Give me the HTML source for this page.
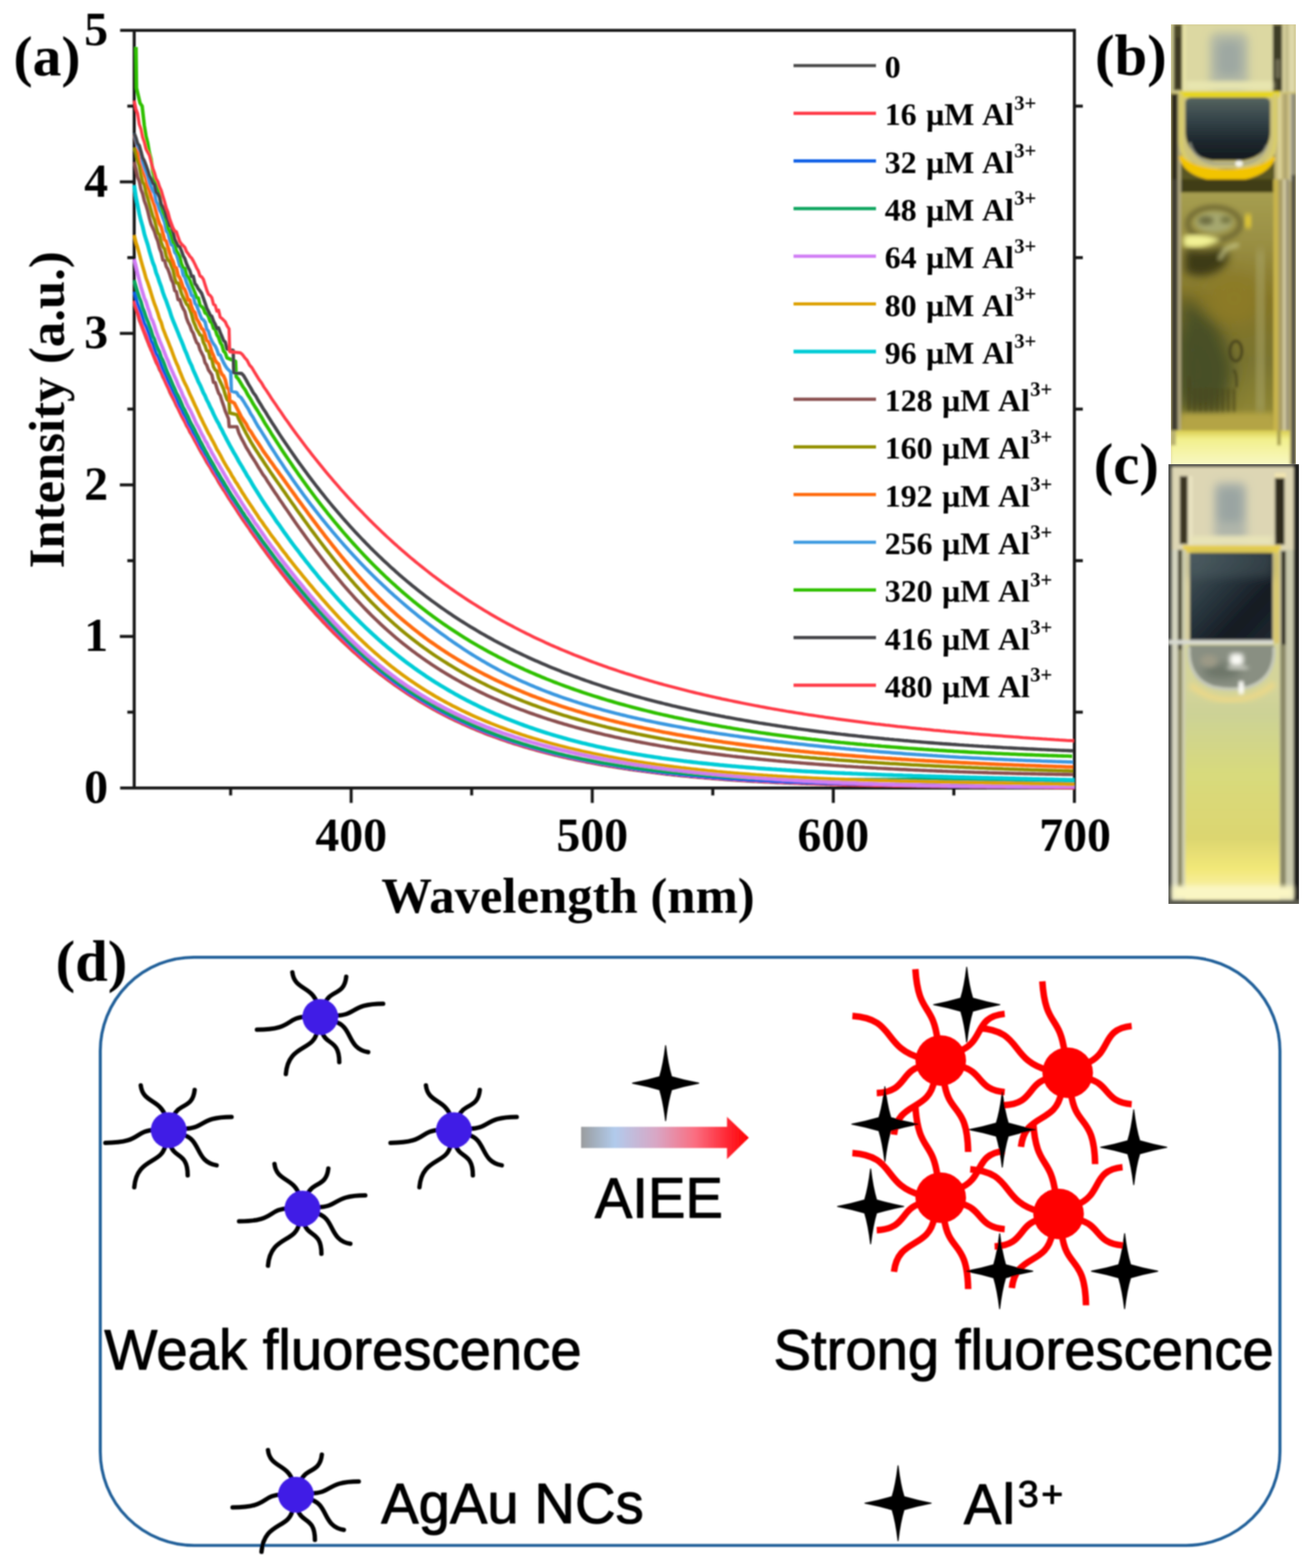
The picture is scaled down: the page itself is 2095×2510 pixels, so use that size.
<!DOCTYPE html>
<html lang="en"><head><meta charset="utf-8"><title>Figure</title>
<style>html,body{margin:0;padding:0;background:#fff}body{width:2095px;height:2510px;overflow:hidden}svg{display:block}</style>
</head><body>
<svg width="2095" height="2510" viewBox="0 0 2095 2510" role="img" aria-label="UV-vis absorption spectra, cuvette photographs and AIEE scheme">
<rect width="2095" height="2510" fill="#ffffff"/>
<defs><filter id="soft" filterUnits="userSpaceOnUse" x="0" y="0" width="2095" height="2510"><feGaussianBlur stdDeviation="0.95"/></filter></defs>
<defs>
<filter id="b1" x="-5%" y="-5%" width="110%" height="110%"><feGaussianBlur stdDeviation="2.0"/></filter>
<filter id="b3" x="-20%" y="-20%" width="140%" height="140%"><feGaussianBlur stdDeviation="3.5"/></filter>
<filter id="b6" x="-30%" y="-30%" width="160%" height="160%"><feGaussianBlur stdDeviation="7"/></filter>
<filter id="b12" x="-40%" y="-40%" width="180%" height="180%"><feGaussianBlur stdDeviation="13"/></filter>
<clipPath id="cpb"><rect x="1874" y="39" width="200" height="704"/></clipPath>
<clipPath id="cpc"><rect x="1870" y="743" width="209" height="704"/></clipPath>
<clipPath id="cpbl"><rect x="1890" y="286" width="148" height="404"/></clipPath>
<linearGradient id="gbliq" x1="0" y1="0" x2="0" y2="1"><stop offset="0" stop-color="#a69e50"/><stop offset="0.2" stop-color="#9a9044"/><stop offset="0.45" stop-color="#857628"/><stop offset="0.7" stop-color="#7a7430"/><stop offset="0.9" stop-color="#8c8434"/><stop offset="1" stop-color="#b8a844"/></linearGradient>
<linearGradient id="gbbub" x1="0" y1="0" x2="0" y2="1"><stop offset="0" stop-color="#56645f"/><stop offset="0.35" stop-color="#35454a"/><stop offset="0.7" stop-color="#1d272d"/><stop offset="1" stop-color="#141a1e"/></linearGradient>
<linearGradient id="gbbot" x1="0" y1="0" x2="0" y2="1"><stop offset="0" stop-color="#d8cc50"/><stop offset="0.25" stop-color="#f2f08c"/><stop offset="1" stop-color="#f8f8c4"/></linearGradient>
<linearGradient id="gcrect" x1="0" y1="0" x2="1" y2="1"><stop offset="0" stop-color="#4a5a5e"/><stop offset="0.35" stop-color="#2c3a42"/><stop offset="0.7" stop-color="#141a22"/><stop offset="1" stop-color="#1e2830"/></linearGradient>
<linearGradient id="gcliq" gradientUnits="userSpaceOnUse" x1="0" y1="1100" x2="0" y2="1446"><stop offset="0" stop-color="#d4d49a"/><stop offset="0.12" stop-color="#ccd296"/><stop offset="0.4" stop-color="#d8da7c"/><stop offset="0.7" stop-color="#dcd670"/><stop offset="0.84" stop-color="#f2e878"/><stop offset="0.93" stop-color="#f8f0a4"/><stop offset="1" stop-color="#faf4c0"/></linearGradient>
</defs>
<g id="photo-b" clip-path="url(#cpb)"><g filter="url(#b1)">
<rect x="1872" y="37" width="204" height="708" fill="#c4b870"/>
<rect x="1874" y="39" width="200" height="108" fill="#dcd8a2"/>
<rect x="1874" y="39" width="5" height="108" fill="#c8c490"/>
<rect x="1878.5" y="39" width="13.5" height="106" fill="#4c4628"/>
<rect x="1882" y="60" width="7" height="80" fill="#3a3520"/>
<rect x="1892" y="39" width="6" height="106" fill="#e8e4a8"/>
<rect x="2037" y="39" width="15" height="107" fill="#3e3c28"/>
<rect x="2041" y="95" width="8" height="30" fill="#6a6850"/>
<rect x="2052" y="39" width="22" height="110" fill="#d6cf9c"/>
<rect x="2058" y="39" width="3" height="110" fill="#b8b080"/>
<rect x="2066" y="39" width="3" height="110" fill="#e6e2b8"/>
<rect x="1936" y="52" width="62" height="92" rx="14" fill="#b4baa6" filter="url(#b6)"/>
<rect x="1948" y="66" width="38" height="56" rx="10" fill="#9ea8a2" filter="url(#b6)"/>
<rect x="1898" y="130" width="140" height="14" fill="#e8e6b0" filter="url(#b3)"/>
<rect x="1874" y="147" width="200" height="142" fill="#cfc474"/>
<rect x="1890" y="236" width="150" height="54" fill="#5a5620"/>
<path d="M1890,150 V236 Q1900,262 1930,270 H2000 Q2030,262 2040,236 V150Z" fill="#cdc37a"/>
<rect x="1874" y="150" width="11" height="140" fill="#2e2c1e"/>
<rect x="1885" y="150" width="5" height="140" fill="#b4ac80"/>
<rect x="2040" y="150" width="34" height="140" fill="#c6ba7c"/>
<rect x="2046" y="150" width="4" height="140" fill="#e0d8a0"/>
<rect x="2055" y="150" width="4" height="140" fill="#a89e6c"/>
<rect x="2064" y="150" width="4" height="140" fill="#d8d2ac"/>
<path d="M1888,146 H2048 V156 H1888Z" fill="#e6d624"/>
<path d="M1890,150 V225 Q1892,268 1935,276 H1995 Q2038,268 2041,225 V150" fill="none" stroke="#d8cc6c" stroke-width="7"/>
<path d="M1890,252 Q1900,284 1960,288 Q2022,286 2038,254 Q2020,272 1962,274 Q1908,272 1890,252Z" fill="#f2c400" stroke="#f2c400" stroke-width="6" stroke-linejoin="round"/>
<path d="M1897,166 Q1897,156 1907,156 H2023 Q2033,156 2033,166 V212 Q2031,250 1990,257 H1940 Q1899,250 1897,212Z" fill="url(#gbbub)"/>
<path d="M1904,228 Q1912,258 1945,262 H1990 Q2020,258 2028,232" fill="none" stroke="#9a9c8c" stroke-width="4" opacity="0.8"/>
<ellipse cx="1983" cy="262" rx="6" ry="5" fill="#f4f4ec"/>
<rect x="1890" y="287" width="148" height="22" fill="#403e18"/>
<rect x="1890" y="308" width="148" height="382" fill="url(#gbliq)"/>
<g clip-path="url(#cpbl)">
<ellipse cx="1943" cy="358" rx="42" ry="26" fill="none" stroke="#6e6830" stroke-width="8" filter="url(#b3)"/>
<ellipse cx="1943" cy="356" rx="30" ry="16" fill="#a6a870" filter="url(#b3)"/>
<ellipse cx="1930" cy="353" rx="12" ry="7" fill="#6c6c40" filter="url(#b3)"/>
<ellipse cx="1962" cy="352" rx="9" ry="6" fill="#74743f" filter="url(#b3)"/>
<path d="M1896,398 Q1925,405 1960,396 Q1975,418 1950,436 Q1920,448 1896,436Z" fill="#3c3a18" filter="url(#b6)"/>
<path d="M1897,380 Q1920,374 1948,384 Q1922,398 1897,392Z" fill="#f4f498" stroke="#f0f090" stroke-width="5" filter="url(#b3)"/>
<rect x="1993" y="343" width="9" height="22" fill="#ecd030" filter="url(#b3)"/>
<path d="M1952,414 L1962,398 L1980,392" fill="none" stroke="#c8c888" stroke-width="6" stroke-linecap="round" filter="url(#b3)"/>
<path d="M1890,470 L1950,520 L1975,590 L1960,660 L1890,660Z" fill="#4a5028" filter="url(#b12)"/>
<path d="M1890,520 L1940,560 L1950,620 L1890,640Z" fill="#465028" filter="url(#b12)"/>
<ellipse cx="1975" cy="478" rx="40" ry="40" fill="#8c7a26" filter="url(#b12)"/>
<rect x="2012" y="400" width="10" height="260" fill="#a8a468" filter="url(#b6)"/>
<rect x="1901" y="604" width="4" height="54" fill="#4a4418" filter="url(#b1)"/>
<rect x="1910" y="622" width="4" height="38" fill="#4a4418" filter="url(#b1)"/>
<rect x="1919" y="622" width="4" height="38" fill="#4a4418" filter="url(#b1)"/>
<rect x="1928" y="622" width="4" height="38" fill="#4a4418" filter="url(#b1)"/>
<rect x="1937" y="622" width="4" height="38" fill="#4a4418" filter="url(#b1)"/>
<rect x="1946" y="622" width="4" height="38" fill="#4a4418" filter="url(#b1)"/>
<rect x="1955" y="622" width="4" height="38" fill="#4a4418" filter="url(#b1)"/>
<rect x="1964" y="622" width="4" height="38" fill="#4a4418" filter="url(#b1)"/>
<rect x="1973" y="622" width="4" height="38" fill="#4a4418" filter="url(#b1)"/>
<ellipse cx="1978" cy="562" rx="9.5" ry="16" fill="none" stroke="#46421a" stroke-width="4.5"/>
<path d="M1974,592 Q1980,596 1979,620" fill="none" stroke="#4a461c" stroke-width="4"/>
<rect x="1890" y="662" width="148" height="28" fill="#b4a444" filter="url(#b3)"/>
</g>
<rect x="1874" y="287" width="11" height="410" fill="#403e30"/>
<rect x="1885" y="287" width="5" height="410" fill="#b0a880"/>
<rect x="2038" y="287" width="8" height="404" fill="#c8b44c"/>
<rect x="2046" y="287" width="7" height="404" fill="#a89c64"/>
<rect x="2053" y="287" width="5" height="404" fill="#d2caa0"/>
<rect x="2058" y="287" width="6" height="404" fill="#9c9478"/>
<rect x="2066.5" y="280" width="7.5" height="465" fill="#4a4a44"/>
<rect x="2066.5" y="150" width="7.5" height="130" fill="#8e8c78"/>
<rect x="1874" y="689" width="190" height="56" fill="url(#gbbot)"/>
<rect x="1874" y="689" width="8" height="24" fill="#b8b070"/>
<rect x="2044" y="689" width="6" height="24" fill="#a8a050"/>
</g></g>
<g id="photo-c" clip-path="url(#cpc)"><g filter="url(#b1)">
<rect x="1868" y="741" width="213" height="708" fill="#3a3a38"/>
<rect x="1875.5" y="747.5" width="195.5" height="694" fill="#ddd6b4"/>
<rect x="1888" y="762" width="13" height="109" fill="#3a3420"/>
<rect x="2040.5" y="764" width="15.5" height="108" fill="#2e2a1e"/>
<rect x="2040" y="757" width="18" height="8" fill="#f0e4b0"/>
<rect x="1901" y="762" width="8" height="110" fill="#e8e2c0"/>
<rect x="1943" y="772" width="52" height="94" rx="10" fill="#b0b6aa" filter="url(#b6)"/>
<rect x="1951" y="782" width="36" height="54" rx="8" fill="#9aa4a2" filter="url(#b6)"/>
<rect x="1905" y="858" width="132" height="14" fill="#e8e4b8" filter="url(#b3)"/>
<rect x="1893" y="873" width="157" height="12" fill="#e8d050"/>
<rect x="1875.5" y="880" width="21" height="562" fill="#d6d6c0"/>
<rect x="1885" y="880" width="7" height="540" fill="#4a4630"/>
<rect x="1885" y="1040" width="7" height="380" fill="#8a8862"/>
<rect x="1892" y="880" width="6" height="562" fill="#cfcfb0"/>
<rect x="2047" y="880" width="24" height="562" fill="#c8c8ac"/>
<rect x="2050.5" y="882" width="7.5" height="150" fill="#2e2a1a"/>
<rect x="2049" y="1032" width="9" height="390" fill="#8a8866"/>
<rect x="2038" y="885" width="10" height="150" fill="#d8c870"/>
<rect x="1897" y="885" width="8" height="150" fill="#d8d0a0"/>
<rect x="1870" y="743" width="6" height="704" fill="#4a4c48"/>
<rect x="2070.5" y="743" width="9" height="704" fill="#141414"/>
<rect x="1897" y="1030" width="151" height="412" fill="url(#gcliq)"/>
<rect x="1904" y="885" width="133" height="140" fill="url(#gcrect)"/>
<rect x="1904" y="885" width="133" height="40" fill="#55666a" opacity="0.35" filter="url(#b6)"/>
<rect x="1870" y="1024.5" width="168" height="6.5" fill="#d8dad2"/>
<path d="M1903,1033 H2039 V1048 Q2036,1088 1998,1100 Q1970,1106 1942,1100 Q1906,1088 1903,1048Z" fill="#898f82"/>
<path d="M1903,1036 V1048 Q1906,1088 1942,1100 Q1970,1106 1998,1100 Q2036,1088 2039,1048 V1036" fill="none" stroke="#c4c8b8" stroke-width="5"/>
<ellipse cx="1955" cy="1075" rx="30" ry="12" fill="#6c7468" filter="url(#b6)"/>
<ellipse cx="1935" cy="1058" rx="14" ry="10" fill="#9c9a86" filter="url(#b3)"/>
<rect x="1968" y="1046" width="22" height="20" rx="6" fill="#fbfbf6" filter="url(#b3)"/>
<rect x="1965" y="1066" width="32" height="6" fill="#d0d2c8" filter="url(#b3)"/>
<rect x="1982" y="1090" width="9" height="22" rx="4" fill="#fdfdf8" filter="url(#b1)"/>
<path d="M1905,1096 Q1935,1122 1972,1120 Q2010,1120 2040,1094" fill="none" stroke="#ead888" stroke-width="10" filter="url(#b3)"/>
<rect x="1876" y="1418" width="195" height="22" fill="#faf6c4" filter="url(#b3)"/>
<rect x="1870" y="1440.5" width="209" height="6.5" fill="#5c5c50"/>
</g></g>
<g id="plot" filter="url(#soft)">
<g stroke="#141414" stroke-width="4.8" fill="none" stroke-linecap="butt">
<path d="M192.3,48.6 H1721.5"/>
<path d="M192.3,1261.3 H1721.5"/>
<path d="M214.8,48.6 V1261.3"/>
<path d="M1719.5,46.6 V1285.3"/>
<path d="M191.8,1018.8 H214.8"/>
<path d="M191.8,776.2 H214.8"/>
<path d="M191.8,533.7 H214.8"/>
<path d="M191.8,291.1 H214.8"/>
<path d="M203.8,1140.0 H214.8"/>
<path d="M1719.5,1140.0 H1733.0"/>
<path d="M203.8,897.5 H214.8"/>
<path d="M1719.5,897.5 H1733.0"/>
<path d="M203.8,654.9 H214.8"/>
<path d="M1719.5,654.9 H1733.0"/>
<path d="M203.8,412.4 H214.8"/>
<path d="M1719.5,412.4 H1733.0"/>
<path d="M203.8,169.9 H214.8"/>
<path d="M1719.5,169.9 H1733.0"/>
<path d="M562.0,1261.3 V1285.3"/>
<path d="M947.9,1261.3 V1285.3"/>
<path d="M1333.7,1261.3 V1285.3"/>
<path d="M369.1,1261.3 V1273.3"/>
<path d="M754.9,1261.3 V1273.3"/>
<path d="M1140.8,1261.3 V1273.3"/>
<path d="M1526.6,1261.3 V1273.3"/>
</g>
<g fill="none" stroke-linejoin="round" stroke-linecap="butt">
<path d="M214.8,485.1L217.5,493.5L220.2,501.7L222.9,512.5L225.6,519.1L228.3,524.5L231.0,532.9L233.7,540.4L236.4,546.6L239.1,554.1L241.8,559.0L244.5,566.7L247.2,572.5L249.9,580.1L252.6,584.6L255.3,591.9L258.0,596.2L260.7,603.5L263.4,608.5L266.1,614.3L268.8,619.9L271.5,627.2L274.2,632.5L276.9,637.7L279.6,642.9L282.3,649.2L285.0,653.8L287.7,659.2L290.4,665.4L293.1,670.4L295.8,674.7L298.5,681.2L301.2,685.3L303.9,691.5L306.6,695.5L309.3,700.5L312.0,705.9L314.7,710.0L317.4,715.7L320.1,720.8L322.8,725.4L325.5,729.7L328.2,734.9L330.9,739.9L333.6,744.2L336.3,748.0L339.0,753.4L341.7,757.8L344.4,761.9L347.1,766.2L349.8,771.5L352.5,775.8L355.2,780.2L357.9,784.5L360.6,788.0L363.3,793.0L366.0,797.4L368.7,801.3L371.4,805.5L374.1,809.4L376.8,813.6L379.5,817.8L382.2,822.2L384.9,826.0L387.6,830.3L390.3,834.3L393.0,838.0L395.7,842.0L398.5,845.7L401.2,850.1L403.9,853.8L406.6,857.8L407.7,859.2L411.6,864.6L415.4,870.0L419.3,875.6L423.1,880.8L427.0,886.1L430.9,891.5L434.7,896.4L438.6,901.8L442.4,906.9L446.3,911.5L450.2,916.9L454.0,921.6L457.9,926.6L461.7,931.6L465.6,936.2L469.4,941.0L473.3,945.7L477.2,950.2L481.0,954.8L484.9,959.4L488.7,964.0L492.6,968.4L496.4,972.7L500.3,977.1L504.2,981.6L508.0,985.6L511.9,989.8L515.7,994.1L519.6,998.1L523.5,1002.3L527.3,1006.1L531.2,1010.2L535.0,1014.1L538.9,1017.9L542.7,1021.7L546.6,1025.5L550.5,1029.1L554.3,1032.7L558.2,1036.3L562.0,1040.0L565.9,1043.5L569.8,1046.9L573.6,1050.3L577.5,1053.7L581.3,1057.0L585.2,1060.3L589.0,1063.5L592.9,1066.8L596.8,1069.9L600.6,1072.9L604.5,1076.1L608.3,1079.1L612.2,1082.0L616.1,1085.0L619.9,1087.8L623.8,1090.7L627.6,1093.5L631.5,1096.3L635.3,1099.0L639.2,1101.7L643.1,1104.3L646.9,1106.9L650.8,1109.5L654.6,1112.0L658.5,1114.5L662.4,1116.9L666.2,1119.3L670.1,1121.7L673.9,1124.0L677.8,1126.3L681.6,1128.6L685.5,1130.8L689.4,1133.0L693.2,1135.1L697.1,1137.3L700.9,1139.4L704.8,1141.4L708.7,1143.4L712.5,1145.4L716.4,1147.4L720.2,1149.3L724.1,1151.2L727.9,1153.1L731.8,1154.9L735.7,1156.7L739.5,1158.5L743.4,1160.2L747.2,1161.9L751.1,1163.6L754.9,1165.3L758.8,1166.9L762.7,1168.5L766.5,1170.1L770.4,1171.6L774.2,1173.2L778.1,1174.7L782.0,1176.2L785.8,1177.6L789.7,1179.0L793.5,1180.4L797.4,1181.8L801.2,1183.2L805.1,1184.5L809.0,1185.9L812.8,1187.2L816.7,1188.4L820.5,1189.7L824.4,1190.9L828.3,1192.1L832.1,1193.3L836.0,1194.5L839.8,1195.7L843.7,1196.8L847.5,1197.9L851.4,1199.0L855.3,1200.1L859.1,1201.2L863.0,1202.2L866.8,1203.3L870.7,1204.3L874.6,1205.3L878.4,1206.3L882.3,1207.3L886.1,1208.2L890.0,1209.1L893.8,1210.1L897.7,1211.0L901.6,1211.9L905.4,1212.8L909.3,1213.6L913.1,1214.5L917.0,1215.3L920.9,1216.1L924.7,1216.9L928.6,1217.7L932.4,1218.5L936.3,1219.3L940.1,1220.1L944.0,1220.8L947.9,1221.5L951.7,1222.3L955.6,1223.0L959.4,1223.7L963.3,1224.4L967.2,1225.0L971.0,1225.7L974.9,1226.4L978.7,1227.0L982.6,1227.7L986.4,1228.3L990.3,1228.9L994.2,1229.5L998.0,1230.1L1001.9,1230.7L1005.7,1231.3L1009.6,1231.8L1013.4,1232.4L1017.3,1232.9L1021.2,1233.5L1025.0,1234.0L1028.9,1234.5L1032.7,1235.0L1036.6,1235.5L1040.5,1236.0L1044.3,1236.5L1048.2,1237.0L1052.0,1237.5L1055.9,1237.9L1059.7,1238.4L1063.6,1238.8L1067.5,1239.3L1071.3,1239.7L1075.2,1240.1L1079.0,1240.6L1082.9,1241.0L1086.8,1241.4L1090.6,1241.8L1094.5,1242.2L1098.3,1242.5L1102.2,1242.9L1106.0,1243.3L1109.9,1243.6L1113.8,1244.0L1117.6,1244.4L1121.5,1244.7L1125.3,1245.0L1129.2,1245.4L1133.1,1245.7L1136.9,1246.0L1140.8,1246.3L1144.6,1246.6L1148.5,1246.9L1152.3,1247.2L1156.2,1247.5L1160.1,1247.8L1163.9,1248.1L1167.8,1248.4L1171.6,1248.6L1175.5,1248.9L1179.4,1249.1L1183.2,1249.4L1187.1,1249.6L1190.9,1249.9L1194.8,1250.1L1198.6,1250.3L1202.5,1250.6L1206.4,1250.8L1210.2,1251.0L1214.1,1251.2L1217.9,1251.4L1221.8,1251.6L1225.6,1251.8L1229.5,1252.0L1233.4,1252.2L1237.2,1252.4L1241.1,1252.6L1244.9,1252.8L1248.8,1252.9L1252.7,1253.1L1256.5,1253.3L1260.4,1253.4L1264.2,1253.6L1268.1,1253.7L1271.9,1253.9L1275.8,1254.0L1279.7,1254.2L1283.5,1254.3L1287.4,1254.5L1291.2,1254.6L1295.1,1254.7L1299.0,1254.8L1302.8,1255.0L1306.7,1255.1L1310.5,1255.2L1314.4,1255.3L1318.2,1255.4L1322.1,1255.6L1326.0,1255.7L1329.8,1255.8L1333.7,1255.9L1337.5,1256.0L1341.4,1256.1L1345.3,1256.2L1349.1,1256.3L1353.0,1256.4L1356.8,1256.5L1360.7,1256.5L1364.5,1256.6L1368.4,1256.7L1372.3,1256.8L1376.1,1256.9L1380.0,1257.0L1383.8,1257.0L1387.7,1257.1L1391.6,1257.2L1395.4,1257.3L1399.3,1257.3L1403.1,1257.4L1407.0,1257.5L1410.8,1257.5L1414.7,1257.6L1418.6,1257.7L1422.4,1257.7L1426.3,1257.8L1430.1,1257.8L1434.0,1257.9L1437.9,1257.9L1441.7,1258.0L1445.6,1258.1L1449.4,1258.1L1453.3,1258.2L1457.1,1258.2L1461.0,1258.3L1464.9,1258.3L1468.7,1258.4L1472.6,1258.4L1476.4,1258.5L1480.3,1258.5L1484.1,1258.5L1488.0,1258.6L1491.9,1258.6L1495.7,1258.7L1499.6,1258.7L1503.4,1258.8L1507.3,1258.8L1511.2,1258.8L1515.0,1258.9L1518.9,1258.9L1522.7,1259.0L1526.6,1259.0L1530.4,1259.0L1534.3,1259.1L1538.2,1259.1L1542.0,1259.2L1545.9,1259.2L1549.7,1259.2L1553.6,1259.3L1557.5,1259.3L1561.3,1259.4L1565.2,1259.4L1569.0,1259.4L1572.9,1259.5L1576.7,1259.5L1580.6,1259.6L1584.5,1259.6L1588.3,1259.6L1592.2,1259.7L1596.0,1259.7L1599.9,1259.8L1603.8,1259.8L1607.6,1259.8L1611.5,1259.9L1615.3,1259.9L1619.2,1260.0L1623.0,1260.0L1626.9,1260.1L1630.8,1260.1L1634.6,1260.1L1638.5,1260.2L1642.3,1260.2L1646.2,1260.3L1650.1,1260.3L1653.9,1260.4L1657.8,1260.4L1661.6,1260.5L1665.5,1260.5L1669.3,1260.6L1673.2,1260.7L1677.1,1260.7L1680.9,1260.8L1684.8,1260.8L1688.6,1260.9L1692.5,1260.9L1696.4,1261.0L1700.2,1261.1L1704.1,1261.1L1707.9,1261.2L1711.8,1261.3L1715.6,1261.3L1719.5,1261.4" stroke="#4a4a4a" stroke-width="5.2"/>
<path d="M214.8,481.9L217.5,491.4L220.2,499.3L222.9,510.1L225.6,517.5L228.3,525.6L231.0,532.1L233.7,538.1L236.4,546.0L239.1,551.9L241.8,559.9L244.5,564.3L247.2,572.5L249.9,578.7L252.6,584.1L255.3,589.3L258.0,595.6L260.7,601.1L263.4,607.5L266.1,614.2L268.8,619.9L271.5,625.0L274.2,631.6L276.9,636.0L279.6,641.4L282.3,647.2L285.0,653.1L287.7,659.1L290.4,664.2L293.1,669.5L295.8,674.7L298.5,679.7L301.2,684.7L303.9,690.3L306.6,694.4L309.3,699.5L312.0,704.3L314.7,710.1L317.4,714.5L320.1,719.2L322.8,724.4L325.5,729.1L328.2,733.3L330.9,738.3L333.6,742.6L336.3,747.7L339.0,751.8L341.7,756.3L344.4,760.9L347.1,765.3L349.8,769.9L352.5,774.6L355.2,779.1L357.9,782.9L360.6,787.9L363.3,791.9L366.0,796.3L368.7,800.2L371.4,804.1L374.1,808.8L376.8,812.5L379.5,816.6L382.2,820.8L384.9,825.2L387.6,828.8L390.3,833.1L393.0,836.9L395.7,841.0L398.5,844.7L401.2,848.7L403.9,852.9L406.6,856.8L407.7,858.0L411.6,863.8L415.4,869.2L419.3,874.7L423.1,879.7L427.0,884.9L430.9,890.1L434.7,895.7L438.6,900.5L442.4,905.9L446.3,910.8L450.2,915.8L454.0,920.7L457.9,925.6L461.7,930.5L465.6,935.3L469.4,939.8L473.3,944.8L477.2,949.5L481.0,953.8L484.9,958.6L488.7,962.9L492.6,967.3L496.4,972.0L500.3,976.1L504.2,980.6L508.0,984.7L511.9,988.9L515.7,993.0L519.6,997.1L523.5,1001.3L527.3,1005.3L531.2,1009.1L535.0,1013.0L538.9,1017.0L542.7,1020.7L546.6,1024.5L550.5,1028.1L554.3,1031.7L558.2,1035.3L562.0,1038.9L565.9,1042.5L569.8,1045.9L573.6,1049.3L577.5,1052.8L581.3,1056.0L585.2,1059.3L589.0,1062.6L592.9,1065.8L596.8,1068.9L600.6,1072.0L604.5,1075.0L608.3,1078.1L612.2,1081.1L616.1,1084.0L619.9,1086.8L623.8,1089.7L627.6,1092.5L631.5,1095.3L635.3,1098.0L639.2,1100.6L643.1,1103.3L646.9,1105.9L650.8,1108.5L654.6,1111.0L658.5,1113.5L662.4,1116.0L666.2,1118.3L670.1,1120.7L673.9,1123.1L677.8,1125.4L681.6,1127.6L685.5,1129.8L689.4,1132.0L693.2,1134.2L697.1,1136.3L700.9,1138.4L704.8,1140.5L708.7,1142.5L712.5,1144.5L716.4,1146.4L720.2,1148.3L724.1,1150.2L727.9,1152.1L731.8,1153.9L735.7,1155.7L739.5,1157.5L743.4,1159.2L747.2,1160.9L751.1,1162.6L754.9,1164.3L758.8,1165.9L762.7,1167.5L766.5,1169.1L770.4,1170.7L774.2,1172.2L778.1,1173.7L782.0,1175.2L785.8,1176.6L789.7,1178.1L793.5,1179.5L797.4,1180.9L801.2,1182.2L805.1,1183.6L809.0,1184.9L812.8,1186.2L816.7,1187.5L820.5,1188.7L824.4,1189.9L828.3,1191.2L832.1,1192.4L836.0,1193.5L839.8,1194.7L843.7,1195.8L847.5,1197.0L851.4,1198.1L855.3,1199.1L859.1,1200.2L863.0,1201.3L866.8,1202.3L870.7,1203.3L874.6,1204.3L878.4,1205.3L882.3,1206.3L886.1,1207.2L890.0,1208.2L893.8,1209.1L897.7,1210.0L901.6,1210.9L905.4,1211.8L909.3,1212.6L913.1,1213.5L917.0,1214.3L920.9,1215.2L924.7,1216.0L928.6,1216.8L932.4,1217.6L936.3,1218.3L940.1,1219.1L944.0,1219.8L947.9,1220.6L951.7,1221.3L955.6,1222.0L959.4,1222.7L963.3,1223.4L967.2,1224.1L971.0,1224.7L974.9,1225.4L978.7,1226.0L982.6,1226.7L986.4,1227.3L990.3,1227.9L994.2,1228.5L998.0,1229.1L1001.9,1229.7L1005.7,1230.3L1009.6,1230.9L1013.4,1231.4L1017.3,1232.0L1021.2,1232.5L1025.0,1233.0L1028.9,1233.6L1032.7,1234.1L1036.6,1234.6L1040.5,1235.1L1044.3,1235.6L1048.2,1236.0L1052.0,1236.5L1055.9,1237.0L1059.7,1237.4L1063.6,1237.9L1067.5,1238.3L1071.3,1238.7L1075.2,1239.2L1079.0,1239.6L1082.9,1240.0L1086.8,1240.4L1090.6,1240.8L1094.5,1241.2L1098.3,1241.6L1102.2,1241.9L1106.0,1242.3L1109.9,1242.7L1113.8,1243.0L1117.6,1243.4L1121.5,1243.7L1125.3,1244.1L1129.2,1244.4L1133.1,1244.7L1136.9,1245.0L1140.8,1245.4L1144.6,1245.7L1148.5,1246.0L1152.3,1246.3L1156.2,1246.5L1160.1,1246.8L1163.9,1247.1L1167.8,1247.4L1171.6,1247.6L1175.5,1247.9L1179.4,1248.2L1183.2,1248.4L1187.1,1248.7L1190.9,1248.9L1194.8,1249.1L1198.6,1249.4L1202.5,1249.6L1206.4,1249.8L1210.2,1250.0L1214.1,1250.2L1217.9,1250.5L1221.8,1250.7L1225.6,1250.9L1229.5,1251.1L1233.4,1251.2L1237.2,1251.4L1241.1,1251.6L1244.9,1251.8L1248.8,1252.0L1252.7,1252.1L1256.5,1252.3L1260.4,1252.5L1264.2,1252.6L1268.1,1252.8L1271.9,1252.9L1275.8,1253.1L1279.7,1253.2L1283.5,1253.3L1287.4,1253.5L1291.2,1253.6L1295.1,1253.8L1299.0,1253.9L1302.8,1254.0L1306.7,1254.1L1310.5,1254.2L1314.4,1254.4L1318.2,1254.5L1322.1,1254.6L1326.0,1254.7L1329.8,1254.8L1333.7,1254.9L1337.5,1255.0L1341.4,1255.1L1345.3,1255.2L1349.1,1255.3L1353.0,1255.4L1356.8,1255.5L1360.7,1255.6L1364.5,1255.7L1368.4,1255.7L1372.3,1255.8L1376.1,1255.9L1380.0,1256.0L1383.8,1256.1L1387.7,1256.1L1391.6,1256.2L1395.4,1256.3L1399.3,1256.4L1403.1,1256.4L1407.0,1256.5L1410.8,1256.6L1414.7,1256.6L1418.6,1256.7L1422.4,1256.7L1426.3,1256.8L1430.1,1256.9L1434.0,1256.9L1437.9,1257.0L1441.7,1257.0L1445.6,1257.1L1449.4,1257.1L1453.3,1257.2L1457.1,1257.2L1461.0,1257.3L1464.9,1257.3L1468.7,1257.4L1472.6,1257.4L1476.4,1257.5L1480.3,1257.5L1484.1,1257.6L1488.0,1257.6L1491.9,1257.7L1495.7,1257.7L1499.6,1257.8L1503.4,1257.8L1507.3,1257.8L1511.2,1257.9L1515.0,1257.9L1518.9,1258.0L1522.7,1258.0L1526.6,1258.0L1530.4,1258.1L1534.3,1258.1L1538.2,1258.2L1542.0,1258.2L1545.9,1258.2L1549.7,1258.3L1553.6,1258.3L1557.5,1258.4L1561.3,1258.4L1565.2,1258.4L1569.0,1258.5L1572.9,1258.5L1576.7,1258.5L1580.6,1258.6L1584.5,1258.6L1588.3,1258.7L1592.2,1258.7L1596.0,1258.7L1599.9,1258.8L1603.8,1258.8L1607.6,1258.9L1611.5,1258.9L1615.3,1259.0L1619.2,1259.0L1623.0,1259.0L1626.9,1259.1L1630.8,1259.1L1634.6,1259.2L1638.5,1259.2L1642.3,1259.3L1646.2,1259.3L1650.1,1259.4L1653.9,1259.4L1657.8,1259.5L1661.6,1259.5L1665.5,1259.6L1669.3,1259.6L1673.2,1259.7L1677.1,1259.7L1680.9,1259.8L1684.8,1259.8L1688.6,1259.9L1692.5,1260.0L1696.4,1260.0L1700.2,1260.1L1704.1,1260.2L1707.9,1260.2L1711.8,1260.3L1715.6,1260.4L1719.5,1260.4" stroke="#ff3b47" stroke-width="6.0"/>
<path d="M214.8,467.4L217.5,476.8L220.2,486.7L222.9,493.9L225.6,500.5L228.3,509.0L231.0,517.4L233.7,522.8L236.4,529.7L239.1,536.7L241.8,545.8L244.5,550.6L247.2,559.2L249.9,566.4L252.6,570.6L255.3,577.2L258.0,585.0L260.7,591.6L263.4,597.3L266.1,603.2L268.8,609.7L271.5,615.4L274.2,620.5L276.9,626.9L279.6,632.2L282.3,637.6L285.0,644.5L287.7,650.5L290.4,654.8L293.1,661.4L295.8,665.8L298.5,670.8L301.2,677.5L303.9,682.1L306.6,686.7L309.3,692.9L312.0,697.0L314.7,702.0L317.4,707.2L320.1,712.9L322.8,717.8L325.5,721.8L328.2,727.2L330.9,731.0L333.6,736.2L336.3,741.4L339.0,745.3L341.7,750.0L344.4,754.2L347.1,759.5L349.8,763.5L352.5,768.2L355.2,772.1L357.9,777.1L360.6,780.6L363.3,785.3L366.0,789.2L368.7,794.0L371.4,798.3L374.1,801.9L376.8,806.1L379.5,810.0L382.2,813.9L384.9,818.5L387.6,822.2L390.3,826.5L393.0,830.1L395.7,834.2L398.5,837.8L401.2,842.2L403.9,845.5L406.6,849.9L407.7,851.1L411.6,856.6L415.4,862.3L419.3,867.5L423.1,872.7L427.0,877.6L430.9,883.0L434.7,888.1L438.6,893.2L442.4,898.2L446.3,903.3L450.2,908.0L454.0,913.0L457.9,918.0L461.7,922.6L465.6,927.4L469.4,932.2L473.3,936.8L477.2,941.5L481.0,946.1L484.9,950.9L488.7,955.3L492.6,959.9L496.4,964.4L500.3,968.9L504.2,973.1L508.0,977.5L511.9,981.7L515.7,986.1L519.6,990.3L523.5,994.5L527.3,998.7L531.2,1002.8L535.0,1006.7L538.9,1010.8L542.7,1014.7L546.6,1018.6L550.5,1022.4L554.3,1026.3L558.2,1030.1L562.0,1033.9L565.9,1037.5L569.8,1041.1L573.6,1044.7L577.5,1048.1L581.3,1051.7L585.2,1055.1L589.0,1058.5L592.9,1061.8L596.8,1065.1L600.6,1068.4L604.5,1071.5L608.3,1074.7L612.2,1077.7L616.1,1080.7L619.9,1083.7L623.8,1086.7L627.6,1089.5L631.5,1092.4L635.3,1095.1L639.2,1097.9L643.1,1100.6L646.9,1103.3L650.8,1105.9L654.6,1108.5L658.5,1111.0L662.4,1113.5L666.2,1115.9L670.1,1118.4L673.9,1120.7L677.8,1123.1L681.6,1125.4L685.5,1127.6L689.4,1129.8L693.2,1132.0L697.1,1134.2L700.9,1136.3L704.8,1138.4L708.7,1140.4L712.5,1142.4L716.4,1144.4L720.2,1146.3L724.1,1148.3L727.9,1150.2L731.8,1152.0L735.7,1153.8L739.5,1155.6L743.4,1157.4L747.2,1159.2L751.1,1160.9L754.9,1162.5L758.8,1164.2L762.7,1165.8L766.5,1167.4L770.4,1169.0L774.2,1170.6L778.1,1172.1L782.0,1173.6L785.8,1175.1L789.7,1176.5L793.5,1178.0L797.4,1179.4L801.2,1180.7L805.1,1182.1L809.0,1183.5L812.8,1184.8L816.7,1186.1L820.5,1187.4L824.4,1188.6L828.3,1189.8L832.1,1191.1L836.0,1192.3L839.8,1193.4L843.7,1194.6L847.5,1195.7L851.4,1196.9L855.3,1198.0L859.1,1199.1L863.0,1200.1L866.8,1201.2L870.7,1202.2L874.6,1203.2L878.4,1204.2L882.3,1205.2L886.1,1206.2L890.0,1207.2L893.8,1208.1L897.7,1209.0L901.6,1209.9L905.4,1210.8L909.3,1211.7L913.1,1212.6L917.0,1213.4L920.9,1214.3L924.7,1215.1L928.6,1215.9L932.4,1216.7L936.3,1217.5L940.1,1218.3L944.0,1219.0L947.9,1219.8L951.7,1220.5L955.6,1221.2L959.4,1221.9L963.3,1222.6L967.2,1223.3L971.0,1224.0L974.9,1224.7L978.7,1225.3L982.6,1226.0L986.4,1226.6L990.3,1227.2L994.2,1227.9L998.0,1228.5L1001.9,1229.1L1005.7,1229.6L1009.6,1230.2L1013.4,1230.8L1017.3,1231.3L1021.2,1231.9L1025.0,1232.4L1028.9,1232.9L1032.7,1233.5L1036.6,1234.0L1040.5,1234.5L1044.3,1235.0L1048.2,1235.5L1052.0,1235.9L1055.9,1236.4L1059.7,1236.9L1063.6,1237.3L1067.5,1237.8L1071.3,1238.2L1075.2,1238.6L1079.0,1239.0L1082.9,1239.5L1086.8,1239.9L1090.6,1240.3L1094.5,1240.7L1098.3,1241.0L1102.2,1241.4L1106.0,1241.8L1109.9,1242.1L1113.8,1242.5L1117.6,1242.9L1121.5,1243.2L1125.3,1243.5L1129.2,1243.9L1133.1,1244.2L1136.9,1244.5L1140.8,1244.8L1144.6,1245.1L1148.5,1245.4L1152.3,1245.7L1156.2,1246.0L1160.1,1246.3L1163.9,1246.6L1167.8,1246.8L1171.6,1247.1L1175.5,1247.4L1179.4,1247.6L1183.2,1247.9L1187.1,1248.1L1190.9,1248.3L1194.8,1248.6L1198.6,1248.8L1202.5,1249.0L1206.4,1249.2L1210.2,1249.4L1214.1,1249.7L1217.9,1249.9L1221.8,1250.0L1225.6,1250.2L1229.5,1250.4L1233.4,1250.6L1237.2,1250.8L1241.1,1251.0L1244.9,1251.1L1248.8,1251.3L1252.7,1251.5L1256.5,1251.6L1260.4,1251.8L1264.2,1251.9L1268.1,1252.1L1271.9,1252.2L1275.8,1252.3L1279.7,1252.5L1283.5,1252.6L1287.4,1252.7L1291.2,1252.9L1295.1,1253.0L1299.0,1253.1L1302.8,1253.2L1306.7,1253.3L1310.5,1253.4L1314.4,1253.6L1318.2,1253.7L1322.1,1253.8L1326.0,1253.9L1329.8,1254.0L1333.7,1254.1L1337.5,1254.1L1341.4,1254.2L1345.3,1254.3L1349.1,1254.4L1353.0,1254.5L1356.8,1254.6L1360.7,1254.7L1364.5,1254.7L1368.4,1254.8L1372.3,1254.9L1376.1,1254.9L1380.0,1255.0L1383.8,1255.1L1387.7,1255.2L1391.6,1255.2L1395.4,1255.3L1399.3,1255.3L1403.1,1255.4L1407.0,1255.5L1410.8,1255.5L1414.7,1255.6L1418.6,1255.6L1422.4,1255.7L1426.3,1255.7L1430.1,1255.8L1434.0,1255.8L1437.9,1255.9L1441.7,1255.9L1445.6,1256.0L1449.4,1256.0L1453.3,1256.1L1457.1,1256.1L1461.0,1256.1L1464.9,1256.2L1468.7,1256.2L1472.6,1256.3L1476.4,1256.3L1480.3,1256.4L1484.1,1256.4L1488.0,1256.4L1491.9,1256.5L1495.7,1256.5L1499.6,1256.5L1503.4,1256.6L1507.3,1256.6L1511.2,1256.7L1515.0,1256.7L1518.9,1256.7L1522.7,1256.8L1526.6,1256.8L1530.4,1256.8L1534.3,1256.9L1538.2,1256.9L1542.0,1257.0L1545.9,1257.0L1549.7,1257.0L1553.6,1257.1L1557.5,1257.1L1561.3,1257.2L1565.2,1257.2L1569.0,1257.2L1572.9,1257.3L1576.7,1257.3L1580.6,1257.4L1584.5,1257.4L1588.3,1257.4L1592.2,1257.5L1596.0,1257.5L1599.9,1257.6L1603.8,1257.6L1607.6,1257.7L1611.5,1257.7L1615.3,1257.8L1619.2,1257.8L1623.0,1257.9L1626.9,1257.9L1630.8,1258.0L1634.6,1258.0L1638.5,1258.1L1642.3,1258.1L1646.2,1258.2L1650.1,1258.2L1653.9,1258.3L1657.8,1258.4L1661.6,1258.4L1665.5,1258.5L1669.3,1258.6L1673.2,1258.6L1677.1,1258.7L1680.9,1258.8L1684.8,1258.8L1688.6,1258.9L1692.5,1259.0L1696.4,1259.1L1700.2,1259.1L1704.1,1259.2L1707.9,1259.3L1711.8,1259.4L1715.6,1259.5L1719.5,1259.6" stroke="#0a5ee6" stroke-width="5.2"/>
<path d="M214.8,448.9L217.5,458.6L220.2,467.6L222.9,476.0L225.6,482.5L228.3,492.7L231.0,499.0L233.7,507.7L236.4,514.1L239.1,521.6L241.8,528.6L244.5,537.8L247.2,542.7L249.9,551.5L252.6,558.1L255.3,563.3L258.0,571.9L260.7,576.7L263.4,583.8L266.1,591.4L268.8,598.0L271.5,603.5L274.2,610.0L276.9,616.8L279.6,622.3L282.3,628.9L285.0,633.4L287.7,639.1L290.4,645.5L293.1,652.0L295.8,656.4L298.5,662.5L301.2,667.5L303.9,674.1L306.6,679.1L309.3,683.8L312.0,688.9L314.7,694.7L317.4,699.5L320.1,705.5L322.8,710.0L325.5,715.5L328.2,720.5L330.9,725.1L333.6,730.5L336.3,735.0L339.0,739.5L341.7,744.0L344.4,749.2L347.1,754.0L349.8,758.0L352.5,762.8L355.2,767.4L357.9,771.4L360.6,776.2L363.3,780.5L366.0,785.2L368.7,789.7L371.4,794.0L374.1,797.7L376.8,802.1L379.5,806.4L382.2,810.3L384.9,814.3L387.6,819.0L390.3,822.4L393.0,827.1L395.7,830.4L398.5,834.8L401.2,838.9L403.9,842.5L406.6,846.6L407.7,848.1L411.6,853.8L415.4,858.8L419.3,864.7L423.1,869.7L427.0,875.0L430.9,880.2L434.7,885.3L438.6,890.7L442.4,895.7L446.3,900.6L450.2,905.3L454.0,910.5L457.9,915.3L461.7,920.2L465.6,925.0L469.4,929.6L473.3,934.4L477.2,938.9L481.0,943.5L484.9,948.2L488.7,952.7L492.6,957.3L496.4,961.8L500.3,966.0L504.2,970.3L508.0,974.8L511.9,979.1L515.7,983.3L519.6,987.4L523.5,991.6L527.3,995.8L531.2,999.8L535.0,1003.7L538.9,1007.7L542.7,1011.6L546.6,1015.5L550.5,1019.3L554.3,1023.2L558.2,1026.8L562.0,1030.6L565.9,1034.2L569.8,1037.8L573.6,1041.4L577.5,1044.9L581.3,1048.4L585.2,1051.8L589.0,1055.0L592.9,1058.3L596.8,1061.7L600.6,1064.9L604.5,1068.0L608.3,1071.2L612.2,1074.3L616.1,1077.3L619.9,1080.2L623.8,1083.2L627.6,1086.1L631.5,1089.0L635.3,1091.7L639.2,1094.5L643.1,1097.2L646.9,1099.9L650.8,1102.5L654.6,1105.1L658.5,1107.7L662.4,1110.2L666.2,1112.7L670.1,1115.1L673.9,1117.5L677.8,1119.9L681.6,1122.2L685.5,1124.5L689.4,1126.7L693.2,1129.0L697.1,1131.1L700.9,1133.3L704.8,1135.4L708.7,1137.4L712.5,1139.5L716.4,1141.5L720.2,1143.5L724.1,1145.5L727.9,1147.4L731.8,1149.2L735.7,1151.1L739.5,1152.9L743.4,1154.7L747.2,1156.5L751.1,1158.2L754.9,1159.9L758.8,1161.6L762.7,1163.3L766.5,1164.9L770.4,1166.5L774.2,1168.1L778.1,1169.7L782.0,1171.2L785.8,1172.7L789.7,1174.2L793.5,1175.6L797.4,1177.1L801.2,1178.5L805.1,1179.9L809.0,1181.2L812.8,1182.6L816.7,1183.9L820.5,1185.2L824.4,1186.5L828.3,1187.7L832.1,1189.0L836.0,1190.2L839.8,1191.4L843.7,1192.5L847.5,1193.7L851.4,1194.9L855.3,1196.0L859.1,1197.1L863.0,1198.2L866.8,1199.2L870.7,1200.3L874.6,1201.3L878.4,1202.3L882.3,1203.3L886.1,1204.3L890.0,1205.3L893.8,1206.2L897.7,1207.1L901.6,1208.1L905.4,1209.0L909.3,1209.8L913.1,1210.7L917.0,1211.6L920.9,1212.4L924.7,1213.2L928.6,1214.1L932.4,1214.9L936.3,1215.6L940.1,1216.4L944.0,1217.2L947.9,1217.9L951.7,1218.6L955.6,1219.4L959.4,1220.1L963.3,1220.8L967.2,1221.5L971.0,1222.1L974.9,1222.8L978.7,1223.4L982.6,1224.1L986.4,1224.7L990.3,1225.3L994.2,1225.9L998.0,1226.5L1001.9,1227.1L1005.7,1227.7L1009.6,1228.2L1013.4,1228.8L1017.3,1229.3L1021.2,1229.8L1025.0,1230.4L1028.9,1230.9L1032.7,1231.4L1036.6,1231.9L1040.5,1232.3L1044.3,1232.8L1048.2,1233.3L1052.0,1233.7L1055.9,1234.2L1059.7,1234.6L1063.6,1235.0L1067.5,1235.5L1071.3,1235.9L1075.2,1236.3L1079.0,1236.7L1082.9,1237.0L1086.8,1237.4L1090.6,1237.8L1094.5,1238.1L1098.3,1238.5L1102.2,1238.8L1106.0,1239.2L1109.9,1239.5L1113.8,1239.8L1117.6,1240.1L1121.5,1240.4L1125.3,1240.7L1129.2,1241.0L1133.1,1241.3L1136.9,1241.6L1140.8,1241.9L1144.6,1242.1L1148.5,1242.4L1152.3,1242.6L1156.2,1242.9L1160.1,1243.1L1163.9,1243.3L1167.8,1243.6L1171.6,1243.8L1175.5,1244.0L1179.4,1244.2L1183.2,1244.4L1187.1,1244.6L1190.9,1244.7L1194.8,1244.9L1198.6,1245.1L1202.5,1245.2L1206.4,1245.4L1210.2,1245.5L1214.1,1245.7L1217.9,1245.8L1221.8,1246.0L1225.6,1246.1L1229.5,1246.2L1233.4,1246.3L1237.2,1246.4L1241.1,1246.5L1244.9,1246.6L1248.8,1246.7L1252.7,1246.8L1256.5,1246.9L1260.4,1247.0L1264.2,1247.1L1268.1,1247.1L1271.9,1247.2L1275.8,1247.3L1279.7,1247.3L1283.5,1247.4L1287.4,1247.4L1291.2,1247.5L1295.1,1247.5L1299.0,1247.6L1302.8,1247.6L1306.7,1247.6L1310.5,1247.7L1314.4,1247.7L1318.2,1247.7L1322.1,1247.8L1326.0,1247.8L1329.8,1247.8L1333.7,1247.8L1337.5,1247.8L1341.4,1247.8L1345.3,1247.8L1349.1,1247.9L1353.0,1247.9L1356.8,1247.9L1360.7,1247.9L1364.5,1247.9L1368.4,1247.9L1372.3,1247.9L1376.1,1247.9L1380.0,1247.9L1383.8,1247.9L1387.7,1247.9L1391.6,1247.9L1395.4,1247.9L1399.3,1247.9L1403.1,1247.9L1407.0,1247.9L1410.8,1247.9L1414.7,1247.9L1418.6,1247.9L1422.4,1247.9L1426.3,1247.9L1430.1,1247.9L1434.0,1247.9L1437.9,1247.9L1441.7,1247.9L1445.6,1247.9L1449.4,1247.9L1453.3,1247.9L1457.1,1247.9L1461.0,1247.9L1464.9,1247.9L1468.7,1247.9L1472.6,1247.9L1476.4,1247.9L1480.3,1247.9L1484.1,1247.9L1488.0,1247.9L1491.9,1247.9L1495.7,1247.9L1499.6,1247.9L1503.4,1247.9L1507.3,1247.9L1511.2,1247.9L1515.0,1247.9L1518.9,1247.9L1522.7,1247.9L1526.6,1247.9L1530.4,1247.9L1534.3,1247.9L1538.2,1247.9L1542.0,1247.9L1545.9,1247.9L1549.7,1247.9L1553.6,1247.9L1557.5,1247.9L1561.3,1247.9L1565.2,1247.9L1569.0,1247.9L1572.9,1247.9L1576.7,1248.0L1580.6,1248.1L1584.5,1248.1L1588.3,1248.2L1592.2,1248.2L1596.0,1248.3L1599.9,1248.4L1603.8,1248.5L1607.6,1248.5L1611.5,1248.6L1615.3,1248.7L1619.2,1248.8L1623.0,1248.9L1626.9,1249.0L1630.8,1249.1L1634.6,1249.2L1638.5,1249.4L1642.3,1249.5L1646.2,1249.6L1650.1,1249.7L1653.9,1249.9L1657.8,1250.0L1661.6,1250.2L1665.5,1250.3L1669.3,1250.5L1673.2,1250.6L1677.1,1250.8L1680.9,1251.0L1684.8,1251.1L1688.6,1251.3L1692.5,1251.5L1696.4,1251.7L1700.2,1251.9L1704.1,1252.1L1707.9,1252.3L1711.8,1252.5L1715.6,1252.7L1719.5,1253.0" stroke="#0aa55f" stroke-width="5.8"/>
<path d="M214.8,415.3L217.5,425.8L220.2,437.7L222.9,448.4L225.6,459.3L228.3,468.2L231.0,477.1L233.7,483.0L236.4,491.9L239.1,499.4L241.8,508.9L244.5,513.9L247.2,521.7L249.9,530.5L252.6,537.7L255.3,544.7L258.0,551.4L260.7,557.7L263.4,564.6L266.1,571.6L268.8,577.5L271.5,585.0L274.2,591.1L276.9,597.2L279.6,603.3L282.3,608.9L285.0,616.1L287.7,621.5L290.4,627.4L293.1,634.2L295.8,639.1L298.5,645.6L301.2,651.4L303.9,655.7L306.6,661.2L309.3,667.0L312.0,673.2L314.7,678.9L317.4,683.4L320.1,689.0L322.8,694.7L325.5,699.3L328.2,705.1L330.9,709.0L333.6,714.9L336.3,719.3L339.0,724.7L341.7,729.3L344.4,734.1L347.1,739.3L349.8,743.2L352.5,748.1L355.2,752.6L357.9,757.3L360.6,762.1L363.3,766.4L366.0,771.6L368.7,776.0L371.4,780.5L374.1,784.7L376.8,788.9L379.5,793.3L382.2,797.2L384.9,801.8L387.6,806.0L390.3,810.0L393.0,814.5L395.7,818.1L398.5,822.7L401.2,826.1L403.9,830.3L406.6,834.6L407.7,836.5L411.6,841.6L415.4,847.2L419.3,852.7L423.1,858.2L427.0,864.0L430.9,869.2L434.7,874.6L438.6,879.5L442.4,884.8L446.3,890.1L450.2,895.3L454.0,900.2L457.9,905.2L461.7,910.1L465.6,915.0L469.4,919.8L473.3,924.8L477.2,929.7L481.0,934.2L484.9,938.9L488.7,943.7L492.6,948.2L496.4,952.9L500.3,957.4L504.2,962.0L508.0,966.5L511.9,970.9L515.7,975.3L519.6,979.5L523.5,983.9L527.3,988.1L531.2,992.2L535.0,996.5L538.9,1000.6L542.7,1004.5L546.6,1008.7L550.5,1012.6L554.3,1016.5L558.2,1020.4L562.0,1024.1L565.9,1027.8L569.8,1031.6L573.6,1035.2L577.5,1038.8L581.3,1042.4L585.2,1045.8L589.0,1049.3L592.9,1052.6L596.8,1056.0L600.6,1059.3L604.5,1062.6L608.3,1065.7L612.2,1068.8L616.1,1071.9L619.9,1074.9L623.8,1077.9L627.6,1080.8L631.5,1083.7L635.3,1086.5L639.2,1089.3L643.1,1092.0L646.9,1094.6L650.8,1097.3L654.6,1099.8L658.5,1102.4L662.4,1104.9L666.2,1107.3L670.1,1109.7L673.9,1112.1L677.8,1114.5L681.6,1116.8L685.5,1119.0L689.4,1121.2L693.2,1123.4L697.1,1125.5L700.9,1127.7L704.8,1129.7L708.7,1131.8L712.5,1133.8L716.4,1135.8L720.2,1137.7L724.1,1139.6L727.9,1141.5L731.8,1143.3L735.7,1145.2L739.5,1147.0L743.4,1148.7L747.2,1150.5L751.1,1152.1L754.9,1153.8L758.8,1155.5L762.7,1157.1L766.5,1158.7L770.4,1160.3L774.2,1161.8L778.1,1163.4L782.0,1164.8L785.8,1166.3L789.7,1167.8L793.5,1169.2L797.4,1170.6L801.2,1172.0L805.1,1173.4L809.0,1174.7L812.8,1176.0L816.7,1177.3L820.5,1178.6L824.4,1179.9L828.3,1181.1L832.1,1182.3L836.0,1183.5L839.8,1184.7L843.7,1185.9L847.5,1187.0L851.4,1188.2L855.3,1189.3L859.1,1190.4L863.0,1191.5L866.8,1192.5L870.7,1193.6L874.6,1194.6L878.4,1195.6L882.3,1196.6L886.1,1197.6L890.0,1198.6L893.8,1199.6L897.7,1200.5L901.6,1201.4L905.4,1202.3L909.3,1203.2L913.1,1204.1L917.0,1205.0L920.9,1205.9L924.7,1206.7L928.6,1207.6L932.4,1208.4L936.3,1209.2L940.1,1210.0L944.0,1210.8L947.9,1211.6L951.7,1212.3L955.6,1213.1L959.4,1213.8L963.3,1214.6L967.2,1215.3L971.0,1216.0L974.9,1216.7L978.7,1217.4L982.6,1218.1L986.4,1218.7L990.3,1219.4L994.2,1220.1L998.0,1220.7L1001.9,1221.3L1005.7,1222.0L1009.6,1222.6L1013.4,1223.2L1017.3,1223.8L1021.2,1224.4L1025.0,1225.0L1028.9,1225.5L1032.7,1226.1L1036.6,1226.6L1040.5,1227.2L1044.3,1227.7L1048.2,1228.3L1052.0,1228.8L1055.9,1229.3L1059.7,1229.8L1063.6,1230.3L1067.5,1230.8L1071.3,1231.3L1075.2,1231.8L1079.0,1232.3L1082.9,1232.7L1086.8,1233.2L1090.6,1233.7L1094.5,1234.1L1098.3,1234.6L1102.2,1235.0L1106.0,1235.4L1109.9,1235.9L1113.8,1236.3L1117.6,1236.7L1121.5,1237.1L1125.3,1237.5L1129.2,1237.9L1133.1,1238.3L1136.9,1238.7L1140.8,1239.0L1144.6,1239.4L1148.5,1239.8L1152.3,1240.1L1156.2,1240.5L1160.1,1240.9L1163.9,1241.2L1167.8,1241.5L1171.6,1241.9L1175.5,1242.2L1179.4,1242.5L1183.2,1242.9L1187.1,1243.2L1190.9,1243.5L1194.8,1243.8L1198.6,1244.1L1202.5,1244.4L1206.4,1244.7L1210.2,1245.0L1214.1,1245.3L1217.9,1245.6L1221.8,1245.9L1225.6,1246.1L1229.5,1246.4L1233.4,1246.7L1237.2,1246.9L1241.1,1247.2L1244.9,1247.5L1248.8,1247.7L1252.7,1248.0L1256.5,1248.2L1260.4,1248.4L1264.2,1248.7L1268.1,1248.9L1271.9,1249.1L1275.8,1249.4L1279.7,1249.6L1283.5,1249.8L1287.4,1250.0L1291.2,1250.2L1295.1,1250.5L1299.0,1250.7L1302.8,1250.9L1306.7,1251.1L1310.5,1251.3L1314.4,1251.5L1318.2,1251.7L1322.1,1251.8L1326.0,1252.0L1329.8,1252.2L1333.7,1252.4L1337.5,1252.6L1341.4,1252.7L1345.3,1252.9L1349.1,1253.1L1353.0,1253.2L1356.8,1253.4L1360.7,1253.6L1364.5,1253.7L1368.4,1253.9L1372.3,1254.0L1376.1,1254.2L1380.0,1254.3L1383.8,1254.5L1387.7,1254.6L1391.6,1254.7L1395.4,1254.9L1399.3,1255.0L1403.1,1255.1L1407.0,1255.3L1410.8,1255.4L1414.7,1255.5L1418.6,1255.6L1422.4,1255.8L1426.3,1255.9L1430.1,1256.0L1434.0,1256.1L1437.9,1256.2L1441.7,1256.3L1445.6,1256.4L1449.4,1256.5L1453.3,1256.6L1457.1,1256.7L1461.0,1256.8L1464.9,1256.9L1468.7,1257.0L1472.6,1257.1L1476.4,1257.2L1480.3,1257.3L1484.1,1257.3L1488.0,1257.4L1491.9,1257.5L1495.7,1257.6L1499.6,1257.7L1503.4,1257.7L1507.3,1257.8L1511.2,1257.9L1515.0,1257.9L1518.9,1258.0L1522.7,1258.1L1526.6,1258.1L1530.4,1258.2L1534.3,1258.2L1538.2,1258.3L1542.0,1258.3L1545.9,1258.4L1549.7,1258.4L1553.6,1258.5L1557.5,1258.5L1561.3,1258.6L1565.2,1258.6L1569.0,1258.7L1572.9,1258.7L1576.7,1258.7L1580.6,1258.8L1584.5,1258.8L1588.3,1258.8L1592.2,1258.8L1596.0,1258.9L1599.9,1258.9L1603.8,1258.9L1607.6,1258.9L1611.5,1259.0L1615.3,1259.0L1619.2,1259.0L1623.0,1259.0L1626.9,1259.0L1630.8,1259.0L1634.6,1259.0L1638.5,1259.0L1642.3,1259.0L1646.2,1259.0L1650.1,1259.0L1653.9,1259.0L1657.8,1259.0L1661.6,1259.0L1665.5,1259.0L1669.3,1259.0L1673.2,1259.0L1677.1,1259.0L1680.9,1259.0L1684.8,1259.0L1688.6,1259.0L1692.5,1259.0L1696.4,1259.0L1700.2,1259.0L1704.1,1259.0L1707.9,1259.0L1711.8,1259.0L1715.6,1259.0L1719.5,1259.0" stroke="#d07df5" stroke-width="5.8"/>
<path d="M214.8,376.7L217.5,388.0L220.2,396.2L222.9,406.3L225.6,416.6L228.3,426.3L231.0,435.4L233.7,445.2L236.4,452.3L239.1,460.5L241.8,469.3L244.5,478.1L247.2,486.3L249.9,493.3L252.6,501.1L255.3,510.2L258.0,516.1L260.7,525.7L263.4,532.5L266.1,539.7L268.8,546.0L271.5,553.1L274.2,559.6L276.9,567.1L279.6,574.4L282.3,581.0L285.0,586.7L287.7,594.4L290.4,600.7L293.1,607.5L295.8,613.4L298.5,618.5L301.2,624.7L303.9,631.1L306.6,636.5L309.3,642.5L312.0,648.5L314.7,654.1L317.4,660.2L320.1,666.2L322.8,671.4L325.5,677.2L328.2,682.5L330.9,688.0L333.6,693.5L336.3,697.9L339.0,703.4L341.7,708.2L344.4,713.6L347.1,719.2L349.8,723.5L352.5,728.3L355.2,733.6L357.9,738.7L360.6,743.3L363.3,747.9L366.0,752.2L368.7,756.6L371.4,761.9L374.1,765.8L376.8,770.8L379.5,774.5L382.2,779.2L384.9,783.3L387.6,788.1L390.3,792.1L393.0,796.4L395.7,800.5L398.5,804.7L401.2,808.8L403.9,812.7L406.6,817.0L407.7,818.7L411.6,824.3L415.4,830.4L419.3,835.4L423.1,841.1L427.0,846.4L430.9,852.0L434.7,857.6L438.6,862.5L442.4,867.8L446.3,872.8L450.2,878.3L454.0,883.3L457.9,888.1L461.7,893.4L465.6,898.1L469.4,903.1L473.3,907.9L477.2,912.7L481.0,917.3L484.9,922.2L488.7,926.8L492.6,931.5L496.4,936.2L500.3,940.7L504.2,945.5L508.0,949.9L511.9,954.4L515.7,958.8L519.6,963.1L523.5,967.6L527.3,972.0L531.2,976.1L535.0,980.4L538.9,984.6L542.7,988.9L546.6,992.9L550.5,997.0L554.3,1000.9L558.2,1005.0L562.0,1008.9L565.9,1012.8L569.8,1016.6L573.6,1020.5L577.5,1024.1L581.3,1027.8L585.2,1031.4L589.0,1035.0L592.9,1038.5L596.8,1042.0L600.6,1045.4L604.5,1048.7L608.3,1052.0L612.2,1055.3L616.1,1058.4L619.9,1061.6L623.8,1064.7L627.6,1067.8L631.5,1070.8L635.3,1073.7L639.2,1076.6L643.1,1079.5L646.9,1082.2L650.8,1085.0L654.6,1087.7L658.5,1090.4L662.4,1093.0L666.2,1095.6L670.1,1098.1L673.9,1100.6L677.8,1103.1L681.6,1105.5L685.5,1107.9L689.4,1110.2L693.2,1112.5L697.1,1114.8L700.9,1117.0L704.8,1119.2L708.7,1121.4L712.5,1123.5L716.4,1125.6L720.2,1127.6L724.1,1129.7L727.9,1131.6L731.8,1133.6L735.7,1135.5L739.5,1137.4L743.4,1139.3L747.2,1141.1L751.1,1142.9L754.9,1144.7L758.8,1146.5L762.7,1148.2L766.5,1149.9L770.4,1151.5L774.2,1153.2L778.1,1154.8L782.0,1156.4L785.8,1158.0L789.7,1159.5L793.5,1161.0L797.4,1162.5L801.2,1164.0L805.1,1165.4L809.0,1166.9L812.8,1168.3L816.7,1169.6L820.5,1171.0L824.4,1172.4L828.3,1173.7L832.1,1175.0L836.0,1176.3L839.8,1177.5L843.7,1178.8L847.5,1180.0L851.4,1181.2L855.3,1182.4L859.1,1183.5L863.0,1184.7L866.8,1185.8L870.7,1186.9L874.6,1188.0L878.4,1189.1L882.3,1190.2L886.1,1191.2L890.0,1192.2L893.8,1193.3L897.7,1194.3L901.6,1195.2L905.4,1196.2L909.3,1197.2L913.1,1198.1L917.0,1199.0L920.9,1199.9L924.7,1200.8L928.6,1201.7L932.4,1202.6L936.3,1203.5L940.1,1204.3L944.0,1205.1L947.9,1206.0L951.7,1206.8L955.6,1207.6L959.4,1208.3L963.3,1209.1L967.2,1209.9L971.0,1210.6L974.9,1211.4L978.7,1212.1L982.6,1212.8L986.4,1213.5L990.3,1214.2L994.2,1214.9L998.0,1215.6L1001.9,1216.2L1005.7,1216.9L1009.6,1217.5L1013.4,1218.2L1017.3,1218.8L1021.2,1219.4L1025.0,1220.0L1028.9,1220.6L1032.7,1221.2L1036.6,1221.8L1040.5,1222.3L1044.3,1222.9L1048.2,1223.4L1052.0,1224.0L1055.9,1224.5L1059.7,1225.0L1063.6,1225.6L1067.5,1226.1L1071.3,1226.6L1075.2,1227.1L1079.0,1227.6L1082.9,1228.0L1086.8,1228.5L1090.6,1229.0L1094.5,1229.4L1098.3,1229.9L1102.2,1230.3L1106.0,1230.8L1109.9,1231.2L1113.8,1231.6L1117.6,1232.1L1121.5,1232.5L1125.3,1232.9L1129.2,1233.3L1133.1,1233.7L1136.9,1234.0L1140.8,1234.4L1144.6,1234.8L1148.5,1235.2L1152.3,1235.5L1156.2,1235.9L1160.1,1236.2L1163.9,1236.6L1167.8,1236.9L1171.6,1237.2L1175.5,1237.6L1179.4,1237.9L1183.2,1238.2L1187.1,1238.5L1190.9,1238.8L1194.8,1239.1L1198.6,1239.4L1202.5,1239.7L1206.4,1240.0L1210.2,1240.3L1214.1,1240.5L1217.9,1240.8L1221.8,1241.1L1225.6,1241.3L1229.5,1241.6L1233.4,1241.8L1237.2,1242.1L1241.1,1242.3L1244.9,1242.6L1248.8,1242.8L1252.7,1243.0L1256.5,1243.2L1260.4,1243.5L1264.2,1243.7L1268.1,1243.9L1271.9,1244.1L1275.8,1244.3L1279.7,1244.5L1283.5,1244.7L1287.4,1244.9L1291.2,1245.1L1295.1,1245.3L1299.0,1245.5L1302.8,1245.7L1306.7,1245.8L1310.5,1246.0L1314.4,1246.2L1318.2,1246.4L1322.1,1246.5L1326.0,1246.7L1329.8,1246.9L1333.7,1247.0L1337.5,1247.2L1341.4,1247.3L1345.3,1247.5L1349.1,1247.6L1353.0,1247.8L1356.8,1247.9L1360.7,1248.1L1364.5,1248.2L1368.4,1248.3L1372.3,1248.5L1376.1,1248.6L1380.0,1248.7L1383.8,1248.9L1387.7,1249.0L1391.6,1249.1L1395.4,1249.2L1399.3,1249.4L1403.1,1249.5L1407.0,1249.6L1410.8,1249.7L1414.7,1249.8L1418.6,1249.9L1422.4,1250.0L1426.3,1250.2L1430.1,1250.3L1434.0,1250.4L1437.9,1250.5L1441.7,1250.6L1445.6,1250.7L1449.4,1250.8L1453.3,1250.9L1457.1,1251.0L1461.0,1251.0L1464.9,1251.1L1468.7,1251.2L1472.6,1251.3L1476.4,1251.4L1480.3,1251.5L1484.1,1251.6L1488.0,1251.7L1491.9,1251.8L1495.7,1251.8L1499.6,1251.9L1503.4,1252.0L1507.3,1252.1L1511.2,1252.2L1515.0,1252.2L1518.9,1252.3L1522.7,1252.4L1526.6,1252.5L1530.4,1252.5L1534.3,1252.6L1538.2,1252.7L1542.0,1252.8L1545.9,1252.8L1549.7,1252.9L1553.6,1253.0L1557.5,1253.0L1561.3,1253.1L1565.2,1253.2L1569.0,1253.2L1572.9,1253.3L1576.7,1253.4L1580.6,1253.4L1584.5,1253.5L1588.3,1253.6L1592.2,1253.6L1596.0,1253.7L1599.9,1253.8L1603.8,1253.8L1607.6,1253.9L1611.5,1254.0L1615.3,1254.0L1619.2,1254.1L1623.0,1254.2L1626.9,1254.2L1630.8,1254.3L1634.6,1254.3L1638.5,1254.4L1642.3,1254.5L1646.2,1254.5L1650.1,1254.6L1653.9,1254.7L1657.8,1254.7L1661.6,1254.8L1665.5,1254.9L1669.3,1254.9L1673.2,1255.0L1677.1,1255.0L1680.9,1255.1L1684.8,1255.2L1688.6,1255.2L1692.5,1255.3L1696.4,1255.4L1700.2,1255.4L1704.1,1255.5L1707.9,1255.6L1711.8,1255.6L1715.6,1255.7L1719.5,1255.8" stroke="#dda000" stroke-width="5.6"/>
<path d="M214.8,296.8L217.5,315.1L220.2,328.1L222.9,342.2L225.6,353.2L228.3,362.5L231.0,374.3L233.7,383.3L236.4,391.5L239.1,401.8L241.8,410.8L244.5,420.0L247.2,426.5L249.9,436.6L252.6,443.4L255.3,451.7L258.0,458.9L260.7,468.0L263.4,475.3L266.1,481.9L268.8,489.7L271.5,497.1L274.2,505.8L276.9,513.0L279.6,519.5L282.3,526.1L285.0,532.7L287.7,539.6L290.4,545.9L293.1,552.7L295.8,560.0L298.5,565.9L301.2,573.1L303.9,579.8L306.6,585.2L309.3,592.5L312.0,598.4L314.7,604.4L317.4,611.0L320.1,616.1L322.8,622.2L325.5,628.7L328.2,633.6L330.9,640.1L333.6,645.1L336.3,651.3L339.0,656.3L341.7,662.5L344.4,668.0L347.1,673.3L349.8,677.8L352.5,683.8L355.2,688.4L357.9,694.1L360.6,699.1L363.3,704.5L366.0,709.5L368.7,714.6L371.4,719.2L374.1,724.4L376.8,728.7L379.5,733.5L382.2,738.7L384.9,743.1L387.6,747.5L390.3,752.3L393.0,756.7L395.7,761.7L398.5,765.8L401.2,770.3L403.9,775.2L406.6,779.7L407.7,781.3L411.6,787.5L415.4,793.6L419.3,799.8L423.1,805.7L427.0,811.5L430.9,817.2L434.7,822.9L438.6,828.6L442.4,834.5L446.3,839.6L450.2,845.2L454.0,850.8L457.9,856.1L461.7,861.5L465.6,866.9L469.4,872.0L473.3,877.1L477.2,882.0L481.0,887.3L484.9,892.2L488.7,897.2L492.6,901.9L496.4,906.8L500.3,911.7L504.2,916.4L508.0,921.2L511.9,925.9L515.7,930.5L519.6,934.8L523.5,939.3L527.3,943.8L531.2,948.3L535.0,952.5L538.9,956.9L542.7,961.2L546.6,965.4L550.5,969.5L554.3,973.7L558.2,977.6L562.0,981.6L565.9,985.6L569.8,989.5L573.6,993.3L577.5,997.2L581.3,1000.9L585.2,1004.7L589.0,1008.3L592.9,1011.9L596.8,1015.5L600.6,1018.9L604.5,1022.5L608.3,1025.8L612.2,1029.3L616.1,1032.5L619.9,1035.8L623.8,1039.0L627.6,1042.2L631.5,1045.4L635.3,1048.4L639.2,1051.5L643.1,1054.5L646.9,1057.5L650.8,1060.4L654.6,1063.2L658.5,1066.1L662.4,1068.9L666.2,1071.6L670.1,1074.4L673.9,1077.0L677.8,1079.6L681.6,1082.3L685.5,1084.8L689.4,1087.3L693.2,1089.8L697.1,1092.3L700.9,1094.7L704.8,1097.1L708.7,1099.4L712.5,1101.7L716.4,1104.0L720.2,1106.2L724.1,1108.4L727.9,1110.7L731.8,1112.8L735.7,1114.9L739.5,1117.0L743.4,1119.0L747.2,1121.1L751.1,1123.0L754.9,1125.0L758.8,1126.9L762.7,1128.8L766.5,1130.7L770.4,1132.6L774.2,1134.4L778.1,1136.2L782.0,1137.9L785.8,1139.7L789.7,1141.4L793.5,1143.1L797.4,1144.7L801.2,1146.4L805.1,1148.0L809.0,1149.6L812.8,1151.1L816.7,1152.7L820.5,1154.2L824.4,1155.7L828.3,1157.2L832.1,1158.6L836.0,1160.0L839.8,1161.5L843.7,1162.8L847.5,1164.2L851.4,1165.5L855.3,1166.9L859.1,1168.2L863.0,1169.5L866.8,1170.7L870.7,1172.0L874.6,1173.2L878.4,1174.4L882.3,1175.6L886.1,1176.7L890.0,1177.9L893.8,1179.0L897.7,1180.1L901.6,1181.2L905.4,1182.3L909.3,1183.4L913.1,1184.4L917.0,1185.4L920.9,1186.5L924.7,1187.4L928.6,1188.4L932.4,1189.4L936.3,1190.3L940.1,1191.3L944.0,1192.2L947.9,1193.1L951.7,1194.0L955.6,1194.9L959.4,1195.7L963.3,1196.6L967.2,1197.4L971.0,1198.2L974.9,1199.0L978.7,1199.8L982.6,1200.6L986.4,1201.4L990.3,1202.1L994.2,1202.8L998.0,1203.6L1001.9,1204.3L1005.7,1205.0L1009.6,1205.7L1013.4,1206.4L1017.3,1207.0L1021.2,1207.7L1025.0,1208.3L1028.9,1209.0L1032.7,1209.6L1036.6,1210.2L1040.5,1210.8L1044.3,1211.4L1048.2,1212.0L1052.0,1212.5L1055.9,1213.1L1059.7,1213.7L1063.6,1214.2L1067.5,1214.7L1071.3,1215.3L1075.2,1215.8L1079.0,1216.3L1082.9,1216.8L1086.8,1217.3L1090.6,1217.8L1094.5,1218.3L1098.3,1218.7L1102.2,1219.2L1106.0,1219.6L1109.9,1220.1L1113.8,1220.5L1117.6,1221.0L1121.5,1221.4L1125.3,1221.8L1129.2,1222.2L1133.1,1222.6L1136.9,1223.0L1140.8,1223.4L1144.6,1223.8L1148.5,1224.2L1152.3,1224.6L1156.2,1224.9L1160.1,1225.3L1163.9,1225.7L1167.8,1226.0L1171.6,1226.4L1175.5,1226.7L1179.4,1227.0L1183.2,1227.4L1187.1,1227.7L1190.9,1228.0L1194.8,1228.3L1198.6,1228.6L1202.5,1228.9L1206.4,1229.2L1210.2,1229.5L1214.1,1229.8L1217.9,1230.1L1221.8,1230.4L1225.6,1230.7L1229.5,1230.9L1233.4,1231.2L1237.2,1231.5L1241.1,1231.7L1244.9,1232.0L1248.8,1232.2L1252.7,1232.5L1256.5,1232.7L1260.4,1233.0L1264.2,1233.2L1268.1,1233.5L1271.9,1233.7L1275.8,1233.9L1279.7,1234.1L1283.5,1234.4L1287.4,1234.6L1291.2,1234.8L1295.1,1235.0L1299.0,1235.2L1302.8,1235.4L1306.7,1235.6L1310.5,1235.8L1314.4,1236.0L1318.2,1236.2L1322.1,1236.4L1326.0,1236.6L1329.8,1236.8L1333.7,1237.0L1337.5,1237.2L1341.4,1237.3L1345.3,1237.5L1349.1,1237.7L1353.0,1237.9L1356.8,1238.0L1360.7,1238.2L1364.5,1238.4L1368.4,1238.5L1372.3,1238.7L1376.1,1238.8L1380.0,1239.0L1383.8,1239.1L1387.7,1239.3L1391.6,1239.5L1395.4,1239.6L1399.3,1239.7L1403.1,1239.9L1407.0,1240.0L1410.8,1240.2L1414.7,1240.3L1418.6,1240.5L1422.4,1240.6L1426.3,1240.7L1430.1,1240.9L1434.0,1241.0L1437.9,1241.1L1441.7,1241.2L1445.6,1241.4L1449.4,1241.5L1453.3,1241.6L1457.1,1241.7L1461.0,1241.9L1464.9,1242.0L1468.7,1242.1L1472.6,1242.2L1476.4,1242.3L1480.3,1242.5L1484.1,1242.6L1488.0,1242.7L1491.9,1242.8L1495.7,1242.9L1499.6,1243.0L1503.4,1243.1L1507.3,1243.2L1511.2,1243.3L1515.0,1243.4L1518.9,1243.6L1522.7,1243.7L1526.6,1243.8L1530.4,1243.9L1534.3,1244.0L1538.2,1244.1L1542.0,1244.2L1545.9,1244.3L1549.7,1244.4L1553.6,1244.5L1557.5,1244.6L1561.3,1244.7L1565.2,1244.8L1569.0,1244.9L1572.9,1245.0L1576.7,1245.1L1580.6,1245.2L1584.5,1245.3L1588.3,1245.4L1592.2,1245.5L1596.0,1245.5L1599.9,1245.6L1603.8,1245.7L1607.6,1245.8L1611.5,1245.9L1615.3,1246.0L1619.2,1246.1L1623.0,1246.2L1626.9,1246.3L1630.8,1246.4L1634.6,1246.5L1638.5,1246.6L1642.3,1246.7L1646.2,1246.8L1650.1,1246.9L1653.9,1247.0L1657.8,1247.1L1661.6,1247.2L1665.5,1247.3L1669.3,1247.3L1673.2,1247.4L1677.1,1247.5L1680.9,1247.6L1684.8,1247.7L1688.6,1247.8L1692.5,1247.9L1696.4,1248.0L1700.2,1248.1L1704.1,1248.2L1707.9,1248.3L1711.8,1248.4L1715.6,1248.5L1719.5,1248.6" stroke="#00ccd6" stroke-width="6.2"/>
<path d="M214.8,259.7L217.5,270.8L220.2,283.8L222.9,290.3L225.6,303.1L228.3,310.2L231.0,321.6L233.7,328.7L236.4,337.8L239.1,349.2L241.8,359.0L244.5,364.8L247.2,370.7L249.9,379.6L252.6,386.3L255.3,397.4L258.0,404.3L260.7,416.3L263.4,417.1L266.1,426.7L268.8,431.2L271.5,438.7L274.2,447.4L276.9,452.7L279.6,465.0L282.3,467.0L285.0,479.8L287.7,479.4L290.4,487.9L293.1,493.8L295.8,498.5L298.5,509.3L301.2,516.3L303.9,521.3L306.6,529.1L309.3,533.4L312.0,541.6L314.7,548.3L317.4,550.9L320.1,559.9L322.8,565.3L325.5,570.4L328.2,580.6L330.9,584.6L333.6,592.1L336.3,595.9L339.0,599.9L341.7,612.1L344.4,612.4L347.1,621.4L349.8,629.2L352.5,633.0L355.2,642.0L357.9,649.5L360.6,658.2L363.3,664.4L365.8,670.6L366.8,683.1L379.2,683.1L382.2,692.9L386.1,701.1L390.0,708.3L393.8,715.8L397.7,722.0L401.5,728.6L405.4,734.5L409.3,740.6L413.1,747.2L417.0,753.3L420.8,759.6L424.7,764.7L428.5,771.0L432.4,776.7L436.3,782.7L440.1,788.4L444.0,794.1L447.8,800.0L451.7,805.5L455.6,811.4L459.4,816.8L463.3,822.6L467.1,828.0L471.0,833.7L474.8,839.2L478.7,844.7L482.6,850.1L486.4,855.4L490.3,860.8L494.1,866.0L498.0,871.3L501.9,876.5L505.7,881.6L509.6,886.7L513.4,891.7L517.3,896.7L521.1,901.6L525.0,906.5L528.9,911.4L532.7,916.1L536.6,920.8L540.4,925.5L544.3,930.1L548.1,934.7L552.0,939.2L555.9,943.6L559.7,948.0L563.6,952.3L567.4,956.6L571.3,960.8L575.2,964.9L579.0,969.0L582.9,973.1L586.7,977.0L590.6,981.0L594.4,984.8L598.3,988.6L602.2,992.4L606.0,996.0L609.9,999.7L613.7,1003.2L617.6,1006.8L621.5,1010.2L625.3,1013.6L629.2,1017.0L633.0,1020.3L636.9,1023.5L640.7,1026.7L644.6,1029.8L648.5,1032.9L652.3,1035.9L656.2,1038.9L660.0,1041.8L663.9,1044.7L667.8,1047.6L671.6,1050.3L675.5,1053.1L679.3,1055.8L683.2,1058.5L687.0,1061.1L690.9,1063.7L694.8,1066.2L698.6,1068.7L702.5,1071.2L706.3,1073.6L710.2,1076.0L714.1,1078.3L717.9,1080.6L721.8,1082.9L725.6,1085.2L729.5,1087.4L733.3,1089.5L737.2,1091.7L741.1,1093.8L744.9,1095.8L748.8,1097.9L752.6,1099.9L756.5,1101.9L760.4,1103.8L764.2,1105.8L768.1,1107.7L771.9,1109.5L775.8,1111.4L779.6,1113.2L783.5,1114.9L787.4,1116.7L791.2,1118.4L795.1,1120.1L798.9,1121.8L802.8,1123.5L806.6,1125.1L810.5,1126.7L814.4,1128.3L818.2,1129.9L822.1,1131.4L825.9,1132.9L829.8,1134.4L833.7,1135.9L837.5,1137.3L841.4,1138.8L845.2,1140.2L849.1,1141.6L852.9,1142.9L856.8,1144.3L860.7,1145.6L864.5,1146.9L868.4,1148.2L872.2,1149.5L876.1,1150.8L880.0,1152.0L883.8,1153.2L887.7,1154.4L891.5,1155.6L895.4,1156.8L899.2,1157.9L903.1,1159.1L907.0,1160.2L910.8,1161.3L914.7,1162.4L918.5,1163.5L922.4,1164.6L926.3,1165.6L930.1,1166.6L934.0,1167.7L937.8,1168.7L941.7,1169.7L945.5,1170.6L949.4,1171.6L953.3,1172.6L957.1,1173.5L961.0,1174.4L964.8,1175.4L968.7,1176.3L972.6,1177.1L976.4,1178.0L980.3,1178.9L984.1,1179.8L988.0,1180.6L991.8,1181.4L995.7,1182.3L999.6,1183.1L1003.4,1183.9L1007.3,1184.7L1011.1,1185.4L1015.0,1186.2L1018.8,1187.0L1022.7,1187.7L1026.6,1188.5L1030.4,1189.2L1034.3,1189.9L1038.1,1190.6L1042.0,1191.3L1045.9,1192.0L1049.7,1192.7L1053.6,1193.4L1057.4,1194.1L1061.3,1194.7L1065.1,1195.4L1069.0,1196.0L1072.9,1196.6L1076.7,1197.3L1080.6,1197.9L1084.4,1198.5L1088.3,1199.1L1092.2,1199.7L1096.0,1200.3L1099.9,1200.8L1103.7,1201.4L1107.6,1202.0L1111.4,1202.5L1115.3,1203.1L1119.2,1203.6L1123.0,1204.2L1126.9,1204.7L1130.7,1205.2L1134.6,1205.7L1138.5,1206.3L1142.3,1206.8L1146.2,1207.3L1150.0,1207.7L1153.9,1208.2L1157.7,1208.7L1161.6,1209.2L1165.5,1209.6L1169.3,1210.1L1173.2,1210.6L1177.0,1211.0L1180.9,1211.5L1184.8,1211.9L1188.6,1212.3L1192.5,1212.8L1196.3,1213.2L1200.2,1213.6L1204.0,1214.0L1207.9,1214.4L1211.8,1214.8L1215.6,1215.2L1219.5,1215.6L1223.3,1216.0L1227.2,1216.4L1231.1,1216.8L1234.9,1217.1L1238.8,1217.5L1242.6,1217.9L1246.5,1218.2L1250.3,1218.6L1254.2,1218.9L1258.1,1219.3L1261.9,1219.6L1265.8,1219.9L1269.6,1220.3L1273.5,1220.6L1277.3,1220.9L1281.2,1221.3L1285.1,1221.6L1288.9,1221.9L1292.8,1222.2L1296.6,1222.5L1300.5,1222.8L1304.4,1223.1L1308.2,1223.4L1312.1,1223.7L1315.9,1224.0L1319.8,1224.3L1323.6,1224.5L1327.5,1224.8L1331.4,1225.1L1335.2,1225.4L1339.1,1225.6L1342.9,1225.9L1346.8,1226.1L1350.7,1226.4L1354.5,1226.7L1358.4,1226.9L1362.2,1227.1L1366.1,1227.4L1369.9,1227.6L1373.8,1227.9L1377.7,1228.1L1381.5,1228.3L1385.4,1228.6L1389.2,1228.8L1393.1,1229.0L1397.0,1229.2L1400.8,1229.4L1404.7,1229.7L1408.5,1229.9L1412.4,1230.1L1416.2,1230.3L1420.1,1230.5L1424.0,1230.7L1427.8,1230.9L1431.7,1231.1L1435.5,1231.3L1439.4,1231.5L1443.3,1231.7L1447.1,1231.8L1451.0,1232.0L1454.8,1232.2L1458.7,1232.4L1462.5,1232.6L1466.4,1232.7L1470.3,1232.9L1474.1,1233.1L1478.0,1233.2L1481.8,1233.4L1485.7,1233.6L1489.6,1233.7L1493.4,1233.9L1497.3,1234.0L1501.1,1234.2L1505.0,1234.3L1508.8,1234.5L1512.7,1234.6L1516.6,1234.8L1520.4,1234.9L1524.3,1235.1L1528.1,1235.2L1532.0,1235.3L1535.8,1235.5L1539.7,1235.6L1543.6,1235.7L1547.4,1235.9L1551.3,1236.0L1555.1,1236.1L1559.0,1236.3L1562.9,1236.4L1566.7,1236.5L1570.6,1236.6L1574.4,1236.7L1578.3,1236.8L1582.1,1237.0L1586.0,1237.1L1589.9,1237.2L1593.7,1237.3L1597.6,1237.4L1601.4,1237.5L1605.3,1237.6L1609.2,1237.7L1613.0,1237.8L1616.9,1237.9L1620.7,1238.0L1624.6,1238.1L1628.4,1238.2L1632.3,1238.3L1636.2,1238.4L1640.0,1238.5L1643.9,1238.5L1647.7,1238.6L1651.6,1238.7L1655.5,1238.8L1659.3,1238.9L1663.2,1239.0L1667.0,1239.0L1670.9,1239.1L1674.7,1239.2L1678.6,1239.3L1682.5,1239.3L1686.3,1239.4L1690.2,1239.5L1694.0,1239.5L1697.9,1239.6L1701.8,1239.7L1705.6,1239.7L1709.5,1239.8L1713.3,1239.9L1717.2,1239.9" stroke="#8a4f4f" stroke-width="5.4"/>
<path d="M214.8,236.3L217.5,244.3L220.2,257.3L222.9,265.4L225.6,280.3L228.3,291.6L231.0,295.9L233.7,308.8L236.4,317.7L239.1,327.1L241.8,336.7L244.5,346.2L247.2,352.2L249.9,362.7L252.6,372.9L255.3,375.7L258.0,387.6L260.7,395.2L263.4,398.5L266.1,410.5L268.8,416.3L271.5,418.5L274.2,425.1L276.9,431.9L279.6,445.2L282.3,452.8L285.0,453.3L287.7,460.6L290.4,469.5L293.1,475.8L295.8,480.9L298.5,486.7L301.2,489.2L303.9,495.6L306.6,502.8L309.3,513.6L312.0,519.8L314.7,526.7L317.4,530.9L320.1,536.1L322.8,537.4L325.5,548.0L328.2,553.1L330.9,561.4L333.6,561.9L336.3,573.5L339.0,574.7L341.7,587.1L344.4,592.0L347.1,594.0L349.8,605.0L352.5,610.9L355.2,616.6L357.9,622.8L360.6,632.0L363.3,639.4L366.6,642.4L367.6,661.0L379.2,663.9L382.2,671.1L386.1,678.4L390.0,685.9L393.8,693.5L397.7,700.4L401.5,707.4L405.4,713.8L409.3,720.0L413.1,725.8L417.0,731.9L420.8,737.4L424.7,743.4L428.5,749.0L432.4,754.9L436.3,760.6L440.1,766.1L444.0,771.7L447.8,777.0L451.7,782.7L455.6,788.2L459.4,793.7L463.3,799.3L467.1,804.8L471.0,810.2L474.8,815.7L478.7,821.1L482.6,826.4L486.4,831.9L490.3,837.2L494.1,842.5L498.0,847.8L501.9,853.0L505.7,858.1L509.6,863.3L513.4,868.4L517.3,873.5L521.1,878.5L525.0,883.5L528.9,888.4L532.7,893.2L536.6,898.1L540.4,902.8L544.3,907.6L548.1,912.2L552.0,916.9L555.9,921.4L559.7,925.9L563.6,930.4L567.4,934.8L571.3,939.1L575.2,943.4L579.0,947.6L582.9,951.8L586.7,955.9L590.6,960.0L594.4,964.0L598.3,967.9L602.2,971.8L606.0,975.6L609.9,979.3L613.7,983.0L617.6,986.7L621.5,990.3L625.3,993.8L629.2,997.3L633.0,1000.7L636.9,1004.0L640.7,1007.3L644.6,1010.6L648.5,1013.8L652.3,1016.9L656.2,1020.0L660.0,1023.0L663.9,1026.0L667.8,1029.0L671.6,1031.9L675.5,1034.7L679.3,1037.6L683.2,1040.3L687.0,1043.0L690.9,1045.7L694.8,1048.4L698.6,1051.0L702.5,1053.5L706.3,1056.0L710.2,1058.5L714.1,1060.9L717.9,1063.4L721.8,1065.7L725.6,1068.0L729.5,1070.3L733.3,1072.6L737.2,1074.8L741.1,1077.0L744.9,1079.2L748.8,1081.3L752.6,1083.4L756.5,1085.5L760.4,1087.5L764.2,1089.5L768.1,1091.5L771.9,1093.4L775.8,1095.3L779.6,1097.2L783.5,1099.1L787.4,1100.9L791.2,1102.7L795.1,1104.5L798.9,1106.3L802.8,1108.0L806.6,1109.7L810.5,1111.4L814.4,1113.0L818.2,1114.6L822.1,1116.3L825.9,1117.8L829.8,1119.4L833.7,1120.9L837.5,1122.5L841.4,1124.0L845.2,1125.4L849.1,1126.9L852.9,1128.3L856.8,1129.7L860.7,1131.1L864.5,1132.5L868.4,1133.9L872.2,1135.2L876.1,1136.5L880.0,1137.8L883.8,1139.1L887.7,1140.4L891.5,1141.6L895.4,1142.8L899.2,1144.1L903.1,1145.3L907.0,1146.4L910.8,1147.6L914.7,1148.8L918.5,1149.9L922.4,1151.0L926.3,1152.1L930.1,1153.2L934.0,1154.3L937.8,1155.3L941.7,1156.4L945.5,1157.4L949.4,1158.4L953.3,1159.4L957.1,1160.4L961.0,1161.4L964.8,1162.4L968.7,1163.3L972.6,1164.3L976.4,1165.2L980.3,1166.1L984.1,1167.0L988.0,1167.9L991.8,1168.8L995.7,1169.7L999.6,1170.5L1003.4,1171.4L1007.3,1172.2L1011.1,1173.0L1015.0,1173.8L1018.8,1174.7L1022.7,1175.4L1026.6,1176.2L1030.4,1177.0L1034.3,1177.8L1038.1,1178.5L1042.0,1179.3L1045.9,1180.0L1049.7,1180.7L1053.6,1181.5L1057.4,1182.2L1061.3,1182.9L1065.1,1183.6L1069.0,1184.2L1072.9,1184.9L1076.7,1185.6L1080.6,1186.2L1084.4,1186.9L1088.3,1187.5L1092.2,1188.2L1096.0,1188.8L1099.9,1189.4L1103.7,1190.0L1107.6,1190.6L1111.4,1191.2L1115.3,1191.8L1119.2,1192.4L1123.0,1193.0L1126.9,1193.5L1130.7,1194.1L1134.6,1194.7L1138.5,1195.2L1142.3,1195.7L1146.2,1196.3L1150.0,1196.8L1153.9,1197.3L1157.7,1197.8L1161.6,1198.4L1165.5,1198.9L1169.3,1199.4L1173.2,1199.8L1177.0,1200.3L1180.9,1200.8L1184.8,1201.3L1188.6,1201.8L1192.5,1202.2L1196.3,1202.7L1200.2,1203.1L1204.0,1203.6L1207.9,1204.0L1211.8,1204.5L1215.6,1204.9L1219.5,1205.3L1223.3,1205.7L1227.2,1206.1L1231.1,1206.6L1234.9,1207.0L1238.8,1207.4L1242.6,1207.8L1246.5,1208.2L1250.3,1208.6L1254.2,1208.9L1258.1,1209.3L1261.9,1209.7L1265.8,1210.1L1269.6,1210.4L1273.5,1210.8L1277.3,1211.1L1281.2,1211.5L1285.1,1211.9L1288.9,1212.2L1292.8,1212.5L1296.6,1212.9L1300.5,1213.2L1304.4,1213.5L1308.2,1213.9L1312.1,1214.2L1315.9,1214.5L1319.8,1214.8L1323.6,1215.1L1327.5,1215.5L1331.4,1215.8L1335.2,1216.1L1339.1,1216.4L1342.9,1216.7L1346.8,1216.9L1350.7,1217.2L1354.5,1217.5L1358.4,1217.8L1362.2,1218.1L1366.1,1218.4L1369.9,1218.6L1373.8,1218.9L1377.7,1219.2L1381.5,1219.4L1385.4,1219.7L1389.2,1220.0L1393.1,1220.2L1397.0,1220.5L1400.8,1220.7L1404.7,1221.0L1408.5,1221.2L1412.4,1221.4L1416.2,1221.7L1420.1,1221.9L1424.0,1222.2L1427.8,1222.4L1431.7,1222.6L1435.5,1222.8L1439.4,1223.1L1443.3,1223.3L1447.1,1223.5L1451.0,1223.7L1454.8,1223.9L1458.7,1224.2L1462.5,1224.4L1466.4,1224.6L1470.3,1224.8L1474.1,1225.0L1478.0,1225.2L1481.8,1225.4L1485.7,1225.6L1489.6,1225.8L1493.4,1226.0L1497.3,1226.2L1501.1,1226.3L1505.0,1226.5L1508.8,1226.7L1512.7,1226.9L1516.6,1227.1L1520.4,1227.3L1524.3,1227.4L1528.1,1227.6L1532.0,1227.8L1535.8,1228.0L1539.7,1228.1L1543.6,1228.3L1547.4,1228.5L1551.3,1228.6L1555.1,1228.8L1559.0,1228.9L1562.9,1229.1L1566.7,1229.3L1570.6,1229.4L1574.4,1229.6L1578.3,1229.7L1582.1,1229.9L1586.0,1230.0L1589.9,1230.2L1593.7,1230.3L1597.6,1230.5L1601.4,1230.6L1605.3,1230.8L1609.2,1230.9L1613.0,1231.0L1616.9,1231.2L1620.7,1231.3L1624.6,1231.4L1628.4,1231.6L1632.3,1231.7L1636.2,1231.8L1640.0,1232.0L1643.9,1232.1L1647.7,1232.2L1651.6,1232.4L1655.5,1232.5L1659.3,1232.6L1663.2,1232.7L1667.0,1232.8L1670.9,1233.0L1674.7,1233.1L1678.6,1233.2L1682.5,1233.3L1686.3,1233.4L1690.2,1233.6L1694.0,1233.7L1697.9,1233.8L1701.8,1233.9L1705.6,1234.0L1709.5,1234.1L1713.3,1234.2L1717.2,1234.3" stroke="#939000" stroke-width="5.5"/>
<path d="M214.8,214.6L217.5,224.3L220.2,234.1L222.9,249.4L225.6,260.1L228.3,264.7L231.0,278.2L233.7,286.1L236.4,297.9L239.1,304.8L241.8,314.9L244.5,321.4L247.2,329.1L249.9,339.5L252.6,350.1L255.3,358.4L258.0,363.1L260.7,373.2L263.4,383.8L266.1,386.0L268.8,395.7L271.5,405.2L274.2,413.4L276.9,418.6L279.6,427.3L282.3,428.8L285.0,441.0L287.7,444.8L290.4,451.9L293.1,460.1L295.8,463.4L298.5,470.6L301.2,480.1L303.9,480.2L306.6,490.7L309.3,497.7L312.0,500.1L314.7,510.4L317.4,514.5L320.1,520.3L322.8,525.9L325.5,527.8L328.2,535.7L330.9,545.0L333.6,546.5L336.3,553.4L339.0,563.5L341.7,569.2L344.4,576.7L347.1,580.6L349.8,582.8L352.5,593.5L355.2,599.2L357.9,601.9L360.6,608.1L363.3,619.9L366.6,623.8L367.6,641.4L374.9,645.2L383.0,660.8L386.1,667.1L390.0,672.9L393.8,678.3L397.7,686.2L401.5,691.0L405.4,697.5L409.3,703.6L413.1,709.1L417.0,715.1L420.8,721.3L424.7,726.8L428.5,731.9L432.4,737.7L436.3,742.8L440.1,748.4L444.0,753.5L447.8,759.1L451.7,764.3L455.6,769.7L459.4,775.2L463.3,780.6L467.1,785.9L471.0,791.3L474.8,796.7L478.7,801.9L482.6,807.2L486.4,812.6L490.3,817.8L494.1,823.1L498.0,828.3L501.9,833.5L505.7,838.6L509.6,843.7L513.4,848.8L517.3,853.8L521.1,858.9L525.0,863.8L528.9,868.7L532.7,873.6L536.6,878.4L540.4,883.2L544.3,888.0L548.1,892.7L552.0,897.3L555.9,901.9L559.7,906.5L563.6,910.9L567.4,915.4L571.3,919.8L575.2,924.1L579.0,928.4L582.9,932.6L586.7,936.8L590.6,940.9L594.4,944.9L598.3,948.9L602.2,952.9L606.0,956.8L609.9,960.6L613.7,964.4L617.6,968.1L621.5,971.7L625.3,975.3L629.2,978.9L633.0,982.3L636.9,985.8L640.7,989.1L644.6,992.5L648.5,995.7L652.3,998.9L656.2,1002.1L660.0,1005.2L663.9,1008.3L667.8,1011.3L671.6,1014.3L675.5,1017.2L679.3,1020.1L683.2,1023.0L687.0,1025.8L690.9,1028.5L694.8,1031.2L698.6,1033.9L702.5,1036.5L706.3,1039.1L710.2,1041.7L714.1,1044.2L717.9,1046.7L721.8,1049.1L725.6,1051.5L729.5,1053.9L733.3,1056.2L737.2,1058.5L741.1,1060.8L744.9,1063.0L748.8,1065.2L752.6,1067.4L756.5,1069.5L760.4,1071.6L764.2,1073.7L768.1,1075.8L771.9,1077.8L775.8,1079.8L779.6,1081.7L783.5,1083.7L787.4,1085.6L791.2,1087.5L795.1,1089.3L798.9,1091.1L802.8,1092.9L806.6,1094.7L810.5,1096.5L814.4,1098.2L818.2,1099.9L822.1,1101.6L825.9,1103.2L829.8,1104.8L833.7,1106.4L837.5,1108.0L841.4,1109.6L845.2,1111.1L849.1,1112.7L852.9,1114.2L856.8,1115.6L860.7,1117.1L864.5,1118.5L868.4,1120.0L872.2,1121.4L876.1,1122.8L880.0,1124.1L883.8,1125.5L887.7,1126.8L891.5,1128.1L895.4,1129.4L899.2,1130.7L903.1,1131.9L907.0,1133.2L910.8,1134.4L914.7,1135.6L918.5,1136.8L922.4,1138.0L926.3,1139.1L930.1,1140.3L934.0,1141.4L937.8,1142.5L941.7,1143.7L945.5,1144.7L949.4,1145.8L953.3,1146.9L957.1,1147.9L961.0,1149.0L964.8,1150.0L968.7,1151.0L972.6,1152.0L976.4,1153.0L980.3,1153.9L984.1,1154.9L988.0,1155.8L991.8,1156.8L995.7,1157.7L999.6,1158.6L1003.4,1159.5L1007.3,1160.4L1011.1,1161.3L1015.0,1162.2L1018.8,1163.0L1022.7,1163.9L1026.6,1164.7L1030.4,1165.5L1034.3,1166.3L1038.1,1167.1L1042.0,1167.9L1045.9,1168.7L1049.7,1169.5L1053.6,1170.2L1057.4,1171.0L1061.3,1171.8L1065.1,1172.5L1069.0,1173.2L1072.9,1173.9L1076.7,1174.7L1080.6,1175.4L1084.4,1176.1L1088.3,1176.7L1092.2,1177.4L1096.0,1178.1L1099.9,1178.7L1103.7,1179.4L1107.6,1180.0L1111.4,1180.7L1115.3,1181.3L1119.2,1181.9L1123.0,1182.6L1126.9,1183.2L1130.7,1183.8L1134.6,1184.4L1138.5,1185.0L1142.3,1185.5L1146.2,1186.1L1150.0,1186.7L1153.9,1187.2L1157.7,1187.8L1161.6,1188.3L1165.5,1188.9L1169.3,1189.4L1173.2,1189.9L1177.0,1190.5L1180.9,1191.0L1184.8,1191.5L1188.6,1192.0L1192.5,1192.5L1196.3,1193.0L1200.2,1193.5L1204.0,1194.0L1207.9,1194.4L1211.8,1194.9L1215.6,1195.4L1219.5,1195.8L1223.3,1196.3L1227.2,1196.7L1231.1,1197.2L1234.9,1197.6L1238.8,1198.1L1242.6,1198.5L1246.5,1198.9L1250.3,1199.3L1254.2,1199.8L1258.1,1200.2L1261.9,1200.6L1265.8,1201.0L1269.6,1201.4L1273.5,1201.8L1277.3,1202.2L1281.2,1202.6L1285.1,1202.9L1288.9,1203.3L1292.8,1203.7L1296.6,1204.1L1300.5,1204.4L1304.4,1204.8L1308.2,1205.1L1312.1,1205.5L1315.9,1205.8L1319.8,1206.2L1323.6,1206.5L1327.5,1206.9L1331.4,1207.2L1335.2,1207.5L1339.1,1207.8L1342.9,1208.2L1346.8,1208.5L1350.7,1208.8L1354.5,1209.1L1358.4,1209.4L1362.2,1209.7L1366.1,1210.0L1369.9,1210.3L1373.8,1210.6L1377.7,1210.9L1381.5,1211.2L1385.4,1211.5L1389.2,1211.8L1393.1,1212.1L1397.0,1212.3L1400.8,1212.6L1404.7,1212.9L1408.5,1213.2L1412.4,1213.4L1416.2,1213.7L1420.1,1213.9L1424.0,1214.2L1427.8,1214.5L1431.7,1214.7L1435.5,1215.0L1439.4,1215.2L1443.3,1215.5L1447.1,1215.7L1451.0,1215.9L1454.8,1216.2L1458.7,1216.4L1462.5,1216.6L1466.4,1216.9L1470.3,1217.1L1474.1,1217.3L1478.0,1217.5L1481.8,1217.8L1485.7,1218.0L1489.6,1218.2L1493.4,1218.4L1497.3,1218.6L1501.1,1218.8L1505.0,1219.0L1508.8,1219.3L1512.7,1219.5L1516.6,1219.7L1520.4,1219.9L1524.3,1220.1L1528.1,1220.2L1532.0,1220.4L1535.8,1220.6L1539.7,1220.8L1543.6,1221.0L1547.4,1221.2L1551.3,1221.4L1555.1,1221.6L1559.0,1221.7L1562.9,1221.9L1566.7,1222.1L1570.6,1222.3L1574.4,1222.4L1578.3,1222.6L1582.1,1222.8L1586.0,1223.0L1589.9,1223.1L1593.7,1223.3L1597.6,1223.5L1601.4,1223.6L1605.3,1223.8L1609.2,1223.9L1613.0,1224.1L1616.9,1224.2L1620.7,1224.4L1624.6,1224.6L1628.4,1224.7L1632.3,1224.9L1636.2,1225.0L1640.0,1225.2L1643.9,1225.3L1647.7,1225.4L1651.6,1225.6L1655.5,1225.7L1659.3,1225.9L1663.2,1226.0L1667.0,1226.2L1670.9,1226.3L1674.7,1226.4L1678.6,1226.6L1682.5,1226.7L1686.3,1226.8L1690.2,1227.0L1694.0,1227.1L1697.9,1227.2L1701.8,1227.3L1705.6,1227.5L1709.5,1227.6L1713.3,1227.7L1717.2,1227.8" stroke="#ff6a08" stroke-width="5.8"/>
<path d="M214.8,213.5L217.5,223.1L220.2,232.7L222.9,238.3L225.6,243.9L228.3,259.0L231.0,267.0L233.7,274.6L236.4,281.6L239.1,291.9L241.8,298.8L244.5,305.2L247.2,309.4L249.9,322.5L252.6,327.5L255.3,336.1L258.0,341.1L260.7,348.8L263.4,355.7L266.1,369.7L268.8,373.1L271.5,383.8L274.2,391.9L276.9,391.9L279.6,404.0L282.3,407.2L285.0,415.8L287.7,426.0L290.4,426.9L293.1,440.2L295.8,443.7L298.5,452.5L301.2,458.8L303.9,465.1L306.6,473.0L309.3,474.1L312.0,485.5L314.7,489.2L317.4,496.6L320.1,503.8L322.8,510.2L325.5,512.0L328.2,515.5L330.9,526.8L333.6,530.4L336.3,539.6L339.0,545.8L341.7,550.5L344.4,553.9L347.1,559.7L349.8,567.6L352.5,568.5L355.2,574.8L357.9,580.6L360.6,585.4L363.3,589.6L369.3,595.6L370.3,626.1L378.8,628.3L381.9,633.6L385.7,636.4L389.6,642.1L393.4,648.4L397.3,654.5L401.2,662.2L405.0,668.0L408.9,675.4L412.7,682.1L416.6,687.9L420.4,694.1L424.3,700.2L428.2,706.6L432.0,713.0L435.9,718.9L439.7,724.9L443.6,731.0L447.4,736.7L451.3,742.5L455.2,748.4L459.0,754.2L462.9,759.7L466.7,765.3L470.6,770.9L474.5,776.3L478.3,781.7L482.2,787.0L486.0,792.3L489.9,797.5L493.7,802.6L497.6,807.8L501.5,812.8L505.3,817.8L509.2,822.7L513.0,827.6L516.9,832.5L520.8,837.2L524.6,841.9L528.5,846.6L532.3,851.2L536.2,855.8L540.0,860.3L543.9,864.8L547.8,869.2L551.6,873.6L555.5,877.9L559.3,882.2L563.2,886.4L567.1,890.6L570.9,894.7L574.8,898.8L578.6,902.8L582.5,906.8L586.3,910.8L590.2,914.7L594.1,918.6L597.9,922.4L601.8,926.2L605.6,929.9L609.5,933.6L613.4,937.2L617.2,940.8L621.1,944.4L624.9,948.0L628.8,951.4L632.6,954.9L636.5,958.3L640.4,961.7L644.2,965.0L648.1,968.4L651.9,971.6L655.8,974.9L659.7,978.1L663.5,981.2L667.4,984.4L671.2,987.5L675.1,990.5L678.9,993.6L682.8,996.6L686.7,999.6L690.5,1002.5L694.4,1005.4L698.2,1008.3L702.1,1011.2L705.9,1014.0L709.8,1016.8L713.7,1019.6L717.5,1022.4L721.4,1025.1L725.2,1027.8L729.1,1030.4L733.0,1033.0L736.8,1035.6L740.7,1038.2L744.5,1040.7L748.4,1043.2L752.2,1045.7L756.1,1048.1L760.0,1050.5L763.8,1052.8L767.7,1055.2L771.5,1057.5L775.4,1059.7L779.3,1062.0L783.1,1064.1L787.0,1066.3L790.8,1068.4L794.7,1070.5L798.5,1072.6L802.4,1074.6L806.3,1076.6L810.1,1078.6L814.0,1080.5L817.8,1082.4L821.7,1084.3L825.6,1086.1L829.4,1087.9L833.3,1089.7L837.1,1091.4L841.0,1093.1L844.8,1094.8L848.7,1096.5L852.6,1098.1L856.4,1099.8L860.3,1101.4L864.1,1102.9L868.0,1104.5L871.9,1106.0L875.7,1107.5L879.6,1108.9L883.4,1110.4L887.3,1111.8L891.1,1113.2L895.0,1114.6L898.9,1116.0L902.7,1117.3L906.6,1118.6L910.4,1119.9L914.3,1121.2L918.2,1122.5L922.0,1123.7L925.9,1125.0L929.7,1126.2L933.6,1127.4L937.4,1128.5L941.3,1129.7L945.2,1130.8L949.0,1132.0L952.9,1133.1L956.7,1134.2L960.6,1135.2L964.4,1136.3L968.3,1137.4L972.2,1138.4L976.0,1139.4L979.9,1140.4L983.7,1141.4L987.6,1142.4L991.5,1143.3L995.3,1144.3L999.2,1145.2L1003.0,1146.2L1006.9,1147.1L1010.7,1148.0L1014.6,1148.9L1018.5,1149.8L1022.3,1150.6L1026.2,1151.5L1030.0,1152.3L1033.9,1153.2L1037.8,1154.0L1041.6,1154.8L1045.5,1155.6L1049.3,1156.4L1053.2,1157.2L1057.0,1158.0L1060.9,1158.7L1064.8,1159.5L1068.6,1160.2L1072.5,1161.0L1076.3,1161.7L1080.2,1162.4L1084.1,1163.1L1087.9,1163.8L1091.8,1164.5L1095.6,1165.2L1099.5,1165.9L1103.3,1166.6L1107.2,1167.2L1111.1,1167.9L1114.9,1168.6L1118.8,1169.2L1122.6,1169.8L1126.5,1170.5L1130.4,1171.1L1134.2,1171.7L1138.1,1172.3L1141.9,1172.9L1145.8,1173.5L1149.6,1174.1L1153.5,1174.7L1157.4,1175.3L1161.2,1175.8L1165.1,1176.4L1168.9,1177.0L1172.8,1177.5L1176.7,1178.1L1180.5,1178.6L1184.4,1179.2L1188.2,1179.7L1192.1,1180.2L1195.9,1180.7L1199.8,1181.3L1203.7,1181.8L1207.5,1182.3L1211.4,1182.8L1215.2,1183.3L1219.1,1183.8L1222.9,1184.3L1226.8,1184.8L1230.7,1185.3L1234.5,1185.8L1238.4,1186.2L1242.2,1186.7L1246.1,1187.2L1250.0,1187.6L1253.8,1188.1L1257.7,1188.5L1261.5,1189.0L1265.4,1189.4L1269.2,1189.9L1273.1,1190.3L1277.0,1190.8L1280.8,1191.2L1284.7,1191.6L1288.5,1192.0L1292.4,1192.5L1296.3,1192.9L1300.1,1193.3L1304.0,1193.7L1307.8,1194.1L1311.7,1194.5L1315.5,1194.9L1319.4,1195.3L1323.3,1195.7L1327.1,1196.1L1331.0,1196.5L1334.8,1196.8L1338.7,1197.2L1342.6,1197.6L1346.4,1198.0L1350.3,1198.3L1354.1,1198.7L1358.0,1199.0L1361.8,1199.4L1365.7,1199.7L1369.6,1200.1L1373.4,1200.4L1377.3,1200.8L1381.1,1201.1L1385.0,1201.4L1388.9,1201.8L1392.7,1202.1L1396.6,1202.4L1400.4,1202.8L1404.3,1203.1L1408.1,1203.4L1412.0,1203.7L1415.9,1204.0L1419.7,1204.3L1423.6,1204.6L1427.4,1204.9L1431.3,1205.2L1435.2,1205.5L1439.0,1205.8L1442.9,1206.1L1446.7,1206.4L1450.6,1206.7L1454.4,1206.9L1458.3,1207.2L1462.2,1207.5L1466.0,1207.8L1469.9,1208.0L1473.7,1208.3L1477.6,1208.5L1481.4,1208.8L1485.3,1209.1L1489.2,1209.3L1493.0,1209.6L1496.9,1209.8L1500.7,1210.1L1504.6,1210.3L1508.5,1210.5L1512.3,1210.8L1516.2,1211.0L1520.0,1211.3L1523.9,1211.5L1527.7,1211.7L1531.6,1211.9L1535.5,1212.2L1539.3,1212.4L1543.2,1212.6L1547.0,1212.8L1550.9,1213.0L1554.8,1213.2L1558.6,1213.4L1562.5,1213.6L1566.3,1213.8L1570.2,1214.0L1574.0,1214.2L1577.9,1214.4L1581.8,1214.6L1585.6,1214.8L1589.5,1215.0L1593.3,1215.2L1597.2,1215.4L1601.1,1215.5L1604.9,1215.7L1608.8,1215.9L1612.6,1216.1L1616.5,1216.2L1620.3,1216.4L1624.2,1216.6L1628.1,1216.7L1631.9,1216.9L1635.8,1217.1L1639.6,1217.2L1643.5,1217.4L1647.4,1217.5L1651.2,1217.7L1655.1,1217.8L1658.9,1218.0L1662.8,1218.1L1666.6,1218.3L1670.5,1218.4L1674.4,1218.5L1678.2,1218.7L1682.1,1218.8L1685.9,1218.9L1689.8,1219.1L1693.7,1219.2L1697.5,1219.3L1701.4,1219.4L1705.2,1219.5L1709.1,1219.7L1712.9,1219.8L1716.8,1219.9" stroke="#3b98e0" stroke-width="5.5"/>
<path d="M217.7,75.3L218.5,140.8L224.1,165.0L227.5,169.9L231.0,201.1L233.7,217.8L236.4,228.7L239.1,244.6L241.8,254.6L244.5,274.2L247.2,284.3L249.9,296.3L252.6,304.3L255.3,313.3L258.0,329.9L260.7,339.6L263.4,344.6L266.1,352.6L268.8,366.0L271.5,370.7L274.2,378.4L276.9,388.3L279.6,389.9L282.3,401.3L285.0,405.8L287.7,411.0L290.4,422.5L293.1,428.4L295.8,429.5L298.5,440.4L301.2,443.7L303.9,448.8L306.6,456.2L309.3,462.3L312.0,468.8L314.7,476.4L317.4,476.9L320.1,488.6L322.8,490.8L325.5,493.6L328.2,500.9L330.9,502.3L333.6,506.5L336.3,514.7L339.0,516.5L341.7,525.5L344.4,527.1L347.1,535.7L349.8,540.0L352.5,548.2L355.2,552.4L357.9,562.0L360.6,564.9L363.3,572.8L377.0,578.4L378.0,602.8L381.1,606.3L384.9,612.5L388.8,619.2L392.7,624.5L396.5,631.9L400.4,637.9L404.2,644.7L408.1,651.1L412.0,657.1L415.8,663.6L419.7,669.8L423.5,676.7L427.4,682.8L431.2,688.7L435.1,695.3L439.0,701.3L442.8,707.3L446.7,713.2L450.5,719.2L454.4,725.1L458.3,730.8L462.1,736.5L466.0,742.2L469.8,747.9L473.7,753.4L477.5,759.0L481.4,764.4L485.3,769.9L489.1,775.2L493.0,780.5L496.8,785.7L500.7,790.9L504.6,796.1L508.4,801.1L512.3,806.2L516.1,811.1L520.0,816.0L523.8,820.9L527.7,825.7L531.6,830.5L535.4,835.2L539.3,839.8L543.1,844.4L547.0,849.0L550.8,853.5L554.7,857.9L558.6,862.3L562.4,866.7L566.3,871.0L570.1,875.2L574.0,879.4L577.9,883.6L581.7,887.7L585.6,891.7L589.4,895.7L593.3,899.7L597.1,903.6L601.0,907.5L604.9,911.3L608.7,915.1L612.6,918.8L616.4,922.5L620.3,926.1L624.2,929.7L628.0,933.2L631.9,936.7L635.7,940.2L639.6,943.6L643.4,947.0L647.3,950.3L651.2,953.6L655.0,956.9L658.9,960.1L662.7,963.3L666.6,966.4L670.5,969.5L674.3,972.5L678.2,975.5L682.0,978.5L685.9,981.4L689.7,984.3L693.6,987.2L697.5,990.0L701.3,992.8L705.2,995.5L709.0,998.2L712.9,1000.9L716.8,1003.5L720.6,1006.1L724.5,1008.7L728.3,1011.2L732.2,1013.7L736.0,1016.2L739.9,1018.6L743.8,1021.1L747.6,1023.4L751.5,1025.8L755.3,1028.1L759.2,1030.4L763.1,1032.6L766.9,1034.8L770.8,1037.0L774.6,1039.2L778.5,1041.3L782.3,1043.5L786.2,1045.5L790.1,1047.6L793.9,1049.6L797.8,1051.7L801.6,1053.6L805.5,1055.6L809.3,1057.5L813.2,1059.4L817.1,1061.3L820.9,1063.2L824.8,1065.0L828.6,1066.8L832.5,1068.6L836.4,1070.4L840.2,1072.2L844.1,1073.9L847.9,1075.6L851.8,1077.3L855.6,1078.9L859.5,1080.6L863.4,1082.2L867.2,1083.8L871.1,1085.4L874.9,1087.0L878.8,1088.5L882.7,1090.0L886.5,1091.6L890.4,1093.0L894.2,1094.5L898.1,1096.0L901.9,1097.4L905.8,1098.8L909.7,1100.2L913.5,1101.6L917.4,1103.0L921.2,1104.3L925.1,1105.7L929.0,1107.0L932.8,1108.3L936.7,1109.6L940.5,1110.9L944.4,1112.1L948.2,1113.4L952.1,1114.6L956.0,1115.8L959.8,1117.0L963.7,1118.2L967.5,1119.4L971.4,1120.6L975.3,1121.7L979.1,1122.8L983.0,1124.0L986.8,1125.1L990.7,1126.2L994.5,1127.3L998.4,1128.3L1002.3,1129.4L1006.1,1130.4L1010.0,1131.5L1013.8,1132.5L1017.7,1133.5L1021.6,1134.5L1025.4,1135.5L1029.3,1136.5L1033.1,1137.4L1037.0,1138.4L1040.8,1139.3L1044.7,1140.3L1048.6,1141.2L1052.4,1142.1L1056.3,1143.0L1060.1,1143.9L1064.0,1144.8L1067.8,1145.6L1071.7,1146.5L1075.6,1147.3L1079.4,1148.2L1083.3,1149.0L1087.1,1149.8L1091.0,1150.6L1094.9,1151.5L1098.7,1152.2L1102.6,1153.0L1106.4,1153.8L1110.3,1154.6L1114.1,1155.3L1118.0,1156.1L1121.9,1156.8L1125.7,1157.6L1129.6,1158.3L1133.4,1159.0L1137.3,1159.7L1141.2,1160.4L1145.0,1161.1L1148.9,1161.8L1152.7,1162.5L1156.6,1163.2L1160.4,1163.8L1164.3,1164.5L1168.2,1165.1L1172.0,1165.8L1175.9,1166.4L1179.7,1167.0L1183.6,1167.7L1187.5,1168.3L1191.3,1168.9L1195.2,1169.5L1199.0,1170.1L1202.9,1170.7L1206.7,1171.3L1210.6,1171.8L1214.5,1172.4L1218.3,1173.0L1222.2,1173.5L1226.0,1174.1L1229.9,1174.6L1233.8,1175.2L1237.6,1175.7L1241.5,1176.2L1245.3,1176.7L1249.2,1177.3L1253.0,1177.8L1256.9,1178.3L1260.8,1178.8L1264.6,1179.3L1268.5,1179.8L1272.3,1180.2L1276.2,1180.7L1280.1,1181.2L1283.9,1181.6L1287.8,1182.1L1291.6,1182.6L1295.5,1183.0L1299.3,1183.5L1303.2,1183.9L1307.1,1184.3L1310.9,1184.8L1314.8,1185.2L1318.6,1185.6L1322.5,1186.0L1326.3,1186.5L1330.2,1186.9L1334.1,1187.3L1337.9,1187.7L1341.8,1188.1L1345.6,1188.5L1349.5,1188.8L1353.4,1189.2L1357.2,1189.6L1361.1,1190.0L1364.9,1190.3L1368.8,1190.7L1372.6,1191.1L1376.5,1191.4L1380.4,1191.8L1384.2,1192.1L1388.1,1192.5L1391.9,1192.8L1395.8,1193.1L1399.7,1193.5L1403.5,1193.8L1407.4,1194.1L1411.2,1194.5L1415.1,1194.8L1418.9,1195.1L1422.8,1195.4L1426.7,1195.7L1430.5,1196.0L1434.4,1196.3L1438.2,1196.6L1442.1,1196.9L1446.0,1197.2L1449.8,1197.5L1453.7,1197.8L1457.5,1198.0L1461.4,1198.3L1465.2,1198.6L1469.1,1198.9L1473.0,1199.1L1476.8,1199.4L1480.7,1199.7L1484.5,1199.9L1488.4,1200.2L1492.3,1200.4L1496.1,1200.7L1500.0,1200.9L1503.8,1201.2L1507.7,1201.4L1511.5,1201.6L1515.4,1201.9L1519.3,1202.1L1523.1,1202.3L1527.0,1202.6L1530.8,1202.8L1534.7,1203.0L1538.6,1203.2L1542.4,1203.4L1546.3,1203.6L1550.1,1203.9L1554.0,1204.1L1557.8,1204.3L1561.7,1204.5L1565.6,1204.7L1569.4,1204.9L1573.3,1205.0L1577.1,1205.2L1581.0,1205.4L1584.8,1205.6L1588.7,1205.8L1592.6,1206.0L1596.4,1206.2L1600.3,1206.3L1604.1,1206.5L1608.0,1206.7L1611.9,1206.8L1615.7,1207.0L1619.6,1207.2L1623.4,1207.3L1627.3,1207.5L1631.1,1207.7L1635.0,1207.8L1638.9,1208.0L1642.7,1208.1L1646.6,1208.3L1650.4,1208.4L1654.3,1208.5L1658.2,1208.7L1662.0,1208.8L1665.9,1209.0L1669.7,1209.1L1673.6,1209.2L1677.4,1209.4L1681.3,1209.5L1685.2,1209.6L1689.0,1209.7L1692.9,1209.9L1696.7,1210.0L1700.6,1210.1L1704.5,1210.2L1708.3,1210.3L1712.2,1210.5L1716.0,1210.6" stroke="#2fc000" stroke-width="5.6"/>
<path d="M214.8,213.5L217.5,220.2L220.2,229.5L222.9,233.1L225.6,242.5L228.3,252.6L231.0,257.6L233.7,264.7L236.4,272.3L239.1,281.3L241.8,286.1L244.5,292.8L247.2,295.7L249.9,307.6L252.6,310.2L255.3,315.9L258.0,327.2L260.7,331.7L263.4,336.4L266.1,347.1L268.8,351.8L271.5,361.4L274.2,362.6L276.9,371.3L279.6,382.8L282.3,388.4L285.0,393.7L287.7,395.1L290.4,401.5L293.1,409.2L295.8,414.0L298.5,422.1L301.2,428.2L303.9,433.4L306.6,442.5L309.3,442.1L312.0,454.0L314.7,457.2L317.4,462.4L320.1,465.7L322.8,469.8L325.5,477.3L328.2,485.0L330.9,493.2L333.6,498.4L336.3,504.3L339.0,506.4L341.7,513.9L344.4,519.0L347.1,525.9L349.8,524.9L352.5,532.2L355.2,538.6L357.9,545.3L360.6,547.8L363.3,558.9L373.2,560.9L374.1,596.5L386.9,598.0L390.0,601.4L393.8,607.9L397.7,615.1L401.5,621.4L405.4,628.6L409.3,633.7L413.1,640.8L417.0,647.0L420.8,653.4L424.7,659.2L428.5,665.6L432.4,671.7L436.3,678.1L440.1,683.8L444.0,690.0L447.8,695.9L451.7,701.7L455.6,707.4L459.4,713.1L463.3,718.8L467.1,724.3L471.0,729.9L474.8,735.4L478.7,740.8L482.6,746.1L486.4,751.4L490.3,756.7L494.1,761.9L498.0,767.0L501.9,772.1L505.7,777.1L509.6,782.0L513.4,787.0L517.3,791.8L521.1,796.6L525.0,801.4L528.9,806.1L532.7,810.7L536.6,815.3L540.4,819.8L544.3,824.3L548.1,828.8L552.0,833.1L555.9,837.5L559.7,841.8L563.6,846.0L567.4,850.2L571.3,854.4L575.2,858.5L579.0,862.5L582.9,866.5L586.7,870.5L590.6,874.4L594.4,878.3L598.3,882.1L602.2,885.9L606.0,889.6L609.9,893.3L613.7,897.0L617.6,900.6L621.5,904.1L625.3,907.7L629.2,911.1L633.0,914.6L636.9,918.0L640.7,921.4L644.6,924.7L648.5,928.0L652.3,931.2L656.2,934.4L660.0,937.6L663.9,940.7L667.8,943.8L671.6,946.9L675.5,949.9L679.3,952.9L683.2,955.8L687.0,958.7L690.9,961.6L694.8,964.4L698.6,967.2L702.5,970.0L706.3,972.7L710.2,975.4L714.1,978.1L717.9,980.7L721.8,983.3L725.6,985.9L729.5,988.5L733.3,991.0L737.2,993.5L741.1,995.9L744.9,998.3L748.8,1000.7L752.6,1003.1L756.5,1005.4L760.4,1007.7L764.2,1010.0L768.1,1012.3L771.9,1014.5L775.8,1016.7L779.6,1018.9L783.5,1021.0L787.4,1023.2L791.2,1025.3L795.1,1027.3L798.9,1029.4L802.8,1031.4L806.6,1033.4L810.5,1035.4L814.4,1037.3L818.2,1039.3L822.1,1041.2L825.9,1043.1L829.8,1044.9L833.7,1046.8L837.5,1048.6L841.4,1050.4L845.2,1052.2L849.1,1054.0L852.9,1055.7L856.8,1057.4L860.7,1059.1L864.5,1060.8L868.4,1062.5L872.2,1064.1L876.1,1065.8L880.0,1067.4L883.8,1069.0L887.7,1070.5L891.5,1072.1L895.4,1073.6L899.2,1075.2L903.1,1076.7L907.0,1078.1L910.8,1079.6L914.7,1081.1L918.5,1082.5L922.4,1083.9L926.3,1085.3L930.1,1086.7L934.0,1088.1L937.8,1089.5L941.7,1090.8L945.5,1092.1L949.4,1093.5L953.3,1094.8L957.1,1096.0L961.0,1097.3L964.8,1098.6L968.7,1099.8L972.6,1101.1L976.4,1102.3L980.3,1103.5L984.1,1104.7L988.0,1105.9L991.8,1107.0L995.7,1108.2L999.6,1109.3L1003.4,1110.4L1007.3,1111.6L1011.1,1112.7L1015.0,1113.8L1018.8,1114.8L1022.7,1115.9L1026.6,1117.0L1030.4,1118.0L1034.3,1119.1L1038.1,1120.1L1042.0,1121.1L1045.9,1122.1L1049.7,1123.1L1053.6,1124.1L1057.4,1125.0L1061.3,1126.0L1065.1,1127.0L1069.0,1127.9L1072.9,1128.8L1076.7,1129.8L1080.6,1130.7L1084.4,1131.6L1088.3,1132.5L1092.2,1133.3L1096.0,1134.2L1099.9,1135.1L1103.7,1135.9L1107.6,1136.8L1111.4,1137.6L1115.3,1138.5L1119.2,1139.3L1123.0,1140.1L1126.9,1140.9L1130.7,1141.7L1134.6,1142.5L1138.5,1143.3L1142.3,1144.0L1146.2,1144.8L1150.0,1145.5L1153.9,1146.3L1157.7,1147.0L1161.6,1147.8L1165.5,1148.5L1169.3,1149.2L1173.2,1149.9L1177.0,1150.6L1180.9,1151.3L1184.8,1152.0L1188.6,1152.7L1192.5,1153.4L1196.3,1154.0L1200.2,1154.7L1204.0,1155.3L1207.9,1156.0L1211.8,1156.6L1215.6,1157.3L1219.5,1157.9L1223.3,1158.5L1227.2,1159.1L1231.1,1159.7L1234.9,1160.3L1238.8,1160.9L1242.6,1161.5L1246.5,1162.1L1250.3,1162.7L1254.2,1163.3L1258.1,1163.8L1261.9,1164.4L1265.8,1164.9L1269.6,1165.5L1273.5,1166.0L1277.3,1166.6L1281.2,1167.1L1285.1,1167.6L1288.9,1168.1L1292.8,1168.7L1296.6,1169.2L1300.5,1169.7L1304.4,1170.2L1308.2,1170.7L1312.1,1171.2L1315.9,1171.6L1319.8,1172.1L1323.6,1172.6L1327.5,1173.1L1331.4,1173.5L1335.2,1174.0L1339.1,1174.5L1342.9,1174.9L1346.8,1175.4L1350.7,1175.8L1354.5,1176.2L1358.4,1176.7L1362.2,1177.1L1366.1,1177.5L1369.9,1177.9L1373.8,1178.4L1377.7,1178.8L1381.5,1179.2L1385.4,1179.6L1389.2,1180.0L1393.1,1180.4L1397.0,1180.8L1400.8,1181.1L1404.7,1181.5L1408.5,1181.9L1412.4,1182.3L1416.2,1182.7L1420.1,1183.0L1424.0,1183.4L1427.8,1183.7L1431.7,1184.1L1435.5,1184.4L1439.4,1184.8L1443.3,1185.1L1447.1,1185.5L1451.0,1185.8L1454.8,1186.1L1458.7,1186.5L1462.5,1186.8L1466.4,1187.1L1470.3,1187.4L1474.1,1187.8L1478.0,1188.1L1481.8,1188.4L1485.7,1188.7L1489.6,1189.0L1493.4,1189.3L1497.3,1189.6L1501.1,1189.9L1505.0,1190.2L1508.8,1190.5L1512.7,1190.7L1516.6,1191.0L1520.4,1191.3L1524.3,1191.6L1528.1,1191.8L1532.0,1192.1L1535.8,1192.4L1539.7,1192.6L1543.6,1192.9L1547.4,1193.1L1551.3,1193.4L1555.1,1193.6L1559.0,1193.9L1562.9,1194.1L1566.7,1194.4L1570.6,1194.6L1574.4,1194.9L1578.3,1195.1L1582.1,1195.3L1586.0,1195.6L1589.9,1195.8L1593.7,1196.0L1597.6,1196.2L1601.4,1196.4L1605.3,1196.7L1609.2,1196.9L1613.0,1197.1L1616.9,1197.3L1620.7,1197.5L1624.6,1197.7L1628.4,1197.9L1632.3,1198.1L1636.2,1198.3L1640.0,1198.5L1643.9,1198.7L1647.7,1198.9L1651.6,1199.0L1655.5,1199.2L1659.3,1199.4L1663.2,1199.6L1667.0,1199.8L1670.9,1199.9L1674.7,1200.1L1678.6,1200.3L1682.5,1200.4L1686.3,1200.6L1690.2,1200.8L1694.0,1200.9L1697.9,1201.1L1701.8,1201.2L1705.6,1201.4L1709.5,1201.5L1713.3,1201.7L1717.2,1201.8" stroke="#454548" stroke-width="5.4"/>
<path d="M214.8,161.4L217.5,174.3L220.2,181.7L222.9,199.0L225.6,206.3L228.3,219.9L231.0,227.4L233.7,238.6L236.4,243.6L239.1,248.4L241.8,258.7L244.5,269.1L247.2,276.3L249.9,286.2L252.6,290.5L255.3,298.7L258.0,304.7L260.7,314.1L263.4,322.8L266.1,333.0L268.8,339.7L271.5,350.1L274.2,357.5L276.9,364.8L279.6,369.6L282.3,371.0L285.0,379.2L287.7,386.6L290.4,390.7L293.1,393.2L295.8,396.0L298.5,402.7L301.2,406.2L303.9,410.4L306.6,413.1L309.3,417.6L312.0,423.0L314.7,428.9L317.4,433.6L320.1,441.7L322.8,443.2L325.5,447.1L328.2,455.8L330.9,464.3L333.6,470.9L336.3,472.9L339.0,476.5L341.7,487.2L344.4,488.6L347.1,498.1L349.8,496.4L352.5,507.8L355.2,509.7L357.9,512.4L360.6,515.3L363.3,521.4L366.6,526.5L367.6,563.0L384.6,564.7L387.6,567.1L391.5,572.3L395.4,576.7L399.2,584.2L403.1,588.5L406.9,595.0L410.8,601.4L414.7,607.7L418.5,612.7L422.4,619.6L426.2,624.9L430.1,630.8L433.9,636.9L437.8,642.6L441.7,648.1L445.5,654.0L449.4,659.4L453.2,665.1L457.1,670.8L461.0,676.0L464.8,681.6L468.7,686.9L472.5,692.2L476.4,697.4L480.2,702.6L484.1,707.8L488.0,712.9L491.8,717.9L495.7,722.9L499.5,727.9L503.4,732.8L507.3,737.6L511.1,742.4L515.0,747.2L518.8,751.9L522.7,756.6L526.5,761.2L530.4,765.7L534.3,770.3L538.1,774.7L542.0,779.2L545.8,783.6L549.7,787.9L553.6,792.2L557.4,796.5L561.3,800.7L565.1,804.8L569.0,809.0L572.8,813.1L576.7,817.1L580.6,821.1L584.4,825.1L588.3,829.0L592.1,832.9L596.0,836.7L599.8,840.5L603.7,844.3L607.6,848.0L611.4,851.7L615.3,855.4L619.1,859.0L623.0,862.5L626.9,866.1L630.7,869.6L634.6,873.0L638.4,876.5L642.3,879.9L646.1,883.2L650.0,886.5L653.9,889.8L657.7,893.1L661.6,896.3L665.4,899.5L669.3,902.6L673.2,905.8L677.0,908.8L680.9,911.9L684.7,914.9L688.6,917.9L692.4,920.9L696.3,923.8L700.2,926.7L704.0,929.5L707.9,932.4L711.7,935.2L715.6,937.9L719.5,940.7L723.3,943.4L727.2,946.1L731.0,948.7L734.9,951.4L738.7,953.9L742.6,956.5L746.5,959.1L750.3,961.6L754.2,964.1L758.0,966.5L761.9,968.9L765.8,971.3L769.6,973.7L773.5,976.1L777.3,978.4L781.2,980.7L785.0,983.0L788.9,985.2L792.8,987.5L796.6,989.7L800.5,991.8L804.3,994.0L808.2,996.1L812.1,998.2L815.9,1000.3L819.8,1002.3L823.6,1004.4L827.5,1006.4L831.3,1008.4L835.2,1010.4L839.1,1012.3L842.9,1014.2L846.8,1016.1L850.6,1018.0L854.5,1019.9L858.3,1021.7L862.2,1023.5L866.1,1025.3L869.9,1027.1L873.8,1028.9L877.6,1030.6L881.5,1032.4L885.4,1034.1L889.2,1035.8L893.1,1037.4L896.9,1039.1L900.8,1040.7L904.6,1042.3L908.5,1043.9L912.4,1045.5L916.2,1047.1L920.1,1048.7L923.9,1050.2L927.8,1051.7L931.7,1053.2L935.5,1054.7L939.4,1056.2L943.2,1057.6L947.1,1059.1L950.9,1060.5L954.8,1061.9L958.7,1063.3L962.5,1064.7L966.4,1066.1L970.2,1067.4L974.1,1068.8L978.0,1070.1L981.8,1071.4L985.7,1072.7L989.5,1074.0L993.4,1075.3L997.2,1076.5L1001.1,1077.8L1005.0,1079.0L1008.8,1080.2L1012.7,1081.4L1016.5,1082.6L1020.4,1083.8L1024.3,1085.0L1028.1,1086.1L1032.0,1087.3L1035.8,1088.4L1039.7,1089.6L1043.5,1090.7L1047.4,1091.8L1051.3,1092.9L1055.1,1094.0L1059.0,1095.0L1062.8,1096.1L1066.7,1097.1L1070.5,1098.2L1074.4,1099.2L1078.3,1100.2L1082.1,1101.2L1086.0,1102.2L1089.8,1103.2L1093.7,1104.2L1097.6,1105.2L1101.4,1106.1L1105.3,1107.1L1109.1,1108.0L1113.0,1109.0L1116.8,1109.9L1120.7,1110.8L1124.6,1111.7L1128.4,1112.6L1132.3,1113.5L1136.1,1114.4L1140.0,1115.3L1143.9,1116.1L1147.7,1117.0L1151.6,1117.8L1155.4,1118.7L1159.3,1119.5L1163.1,1120.3L1167.0,1121.1L1170.9,1121.9L1174.7,1122.7L1178.6,1123.5L1182.4,1124.3L1186.3,1125.1L1190.2,1125.9L1194.0,1126.6L1197.9,1127.4L1201.7,1128.1L1205.6,1128.9L1209.4,1129.6L1213.3,1130.3L1217.2,1131.1L1221.0,1131.8L1224.9,1132.5L1228.7,1133.2L1232.6,1133.9L1236.5,1134.6L1240.3,1135.3L1244.2,1135.9L1248.0,1136.6L1251.9,1137.3L1255.7,1137.9L1259.6,1138.6L1263.5,1139.2L1267.3,1139.8L1271.2,1140.5L1275.0,1141.1L1278.9,1141.7L1282.8,1142.3L1286.6,1143.0L1290.5,1143.6L1294.3,1144.2L1298.2,1144.7L1302.0,1145.3L1305.9,1145.9L1309.8,1146.5L1313.6,1147.1L1317.5,1147.6L1321.3,1148.2L1325.2,1148.7L1329.0,1149.3L1332.9,1149.8L1336.8,1150.4L1340.6,1150.9L1344.5,1151.5L1348.3,1152.0L1352.2,1152.5L1356.1,1153.0L1359.9,1153.5L1363.8,1154.0L1367.6,1154.5L1371.5,1155.0L1375.3,1155.5L1379.2,1156.0L1383.1,1156.5L1386.9,1157.0L1390.8,1157.5L1394.6,1157.9L1398.5,1158.4L1402.4,1158.9L1406.2,1159.3L1410.1,1159.8L1413.9,1160.2L1417.8,1160.7L1421.6,1161.1L1425.5,1161.6L1429.4,1162.0L1433.2,1162.4L1437.1,1162.9L1440.9,1163.3L1444.8,1163.7L1448.7,1164.1L1452.5,1164.5L1456.4,1165.0L1460.2,1165.4L1464.1,1165.8L1467.9,1166.2L1471.8,1166.6L1475.7,1167.0L1479.5,1167.3L1483.4,1167.7L1487.2,1168.1L1491.1,1168.5L1495.0,1168.9L1498.8,1169.2L1502.7,1169.6L1506.5,1170.0L1510.4,1170.3L1514.2,1170.7L1518.1,1171.0L1522.0,1171.4L1525.8,1171.7L1529.7,1172.1L1533.5,1172.4L1537.4,1172.8L1541.3,1173.1L1545.1,1173.4L1549.0,1173.8L1552.8,1174.1L1556.7,1174.4L1560.5,1174.8L1564.4,1175.1L1568.3,1175.4L1572.1,1175.7L1576.0,1176.0L1579.8,1176.3L1583.7,1176.6L1587.5,1176.9L1591.4,1177.2L1595.3,1177.5L1599.1,1177.8L1603.0,1178.1L1606.8,1178.4L1610.7,1178.7L1614.6,1179.0L1618.4,1179.3L1622.3,1179.6L1626.1,1179.8L1630.0,1180.1L1633.8,1180.4L1637.7,1180.7L1641.6,1180.9L1645.4,1181.2L1649.3,1181.5L1653.1,1181.7L1657.0,1182.0L1660.9,1182.2L1664.7,1182.5L1668.6,1182.8L1672.4,1183.0L1676.3,1183.3L1680.1,1183.5L1684.0,1183.7L1687.9,1184.0L1691.7,1184.2L1695.6,1184.5L1699.4,1184.7L1703.3,1184.9L1707.2,1185.2L1711.0,1185.4L1714.9,1185.6L1718.7,1185.9" stroke="#ff3b47" stroke-width="5.0"/>
</g>
<g font-family='"Liberation Serif", serif' font-weight="700" font-size="76.5" fill="#000">
<text x="173" y="1284.8" text-anchor="end">0</text>
<text x="173" y="1042.3" text-anchor="end">1</text>
<text x="173" y="799.7" text-anchor="end">2</text>
<text x="173" y="557.2" text-anchor="end">3</text>
<text x="173" y="314.6" text-anchor="end">4</text>
<text x="173" y="72.1" text-anchor="end">5</text>
<text x="562.0" y="1362" text-anchor="middle">400</text>
<text x="947.9" y="1362" text-anchor="middle">500</text>
<text x="1333.7" y="1362" text-anchor="middle">600</text>
<text x="1720.5" y="1362" text-anchor="middle">700</text>
</g>
<text x="909" y="1461" text-anchor="middle" font-family='"Liberation Serif", serif' font-weight="700" font-size="81.2" fill="#000">Wavelength (nm)</text>
<text transform="translate(102,656) rotate(-90)" text-anchor="middle" font-family='"Liberation Serif", serif' font-weight="700" font-size="81.2" fill="#000">Intensity (a.u.)</text>
<g font-family='"Liberation Serif", serif' font-weight="700" font-size="51" word-spacing="2.5" fill="#000">
<path d="M1270,105.0 H1402" stroke="#4a4a4a" stroke-width="5.2" fill="none"/>
<text x="1416" y="124.0">0</text>
<path d="M1270,181.3 H1402" stroke="#ff3b47" stroke-width="5.2" fill="none"/>
<text x="1416" y="200.3">16 μM Al<tspan font-size="33" dy="-24.5" dx="0.5">3+</tspan></text>
<path d="M1270,257.6 H1402" stroke="#0a5ee6" stroke-width="5.2" fill="none"/>
<text x="1416" y="276.6">32 μM Al<tspan font-size="33" dy="-24.5" dx="0.5">3+</tspan></text>
<path d="M1270,333.9 H1402" stroke="#0aa55f" stroke-width="5.2" fill="none"/>
<text x="1416" y="352.9">48 μM Al<tspan font-size="33" dy="-24.5" dx="0.5">3+</tspan></text>
<path d="M1270,410.2 H1402" stroke="#d07df5" stroke-width="5.2" fill="none"/>
<text x="1416" y="429.2">64 μM Al<tspan font-size="33" dy="-24.5" dx="0.5">3+</tspan></text>
<path d="M1270,486.5 H1402" stroke="#dda000" stroke-width="5.2" fill="none"/>
<text x="1416" y="505.5">80 μM Al<tspan font-size="33" dy="-24.5" dx="0.5">3+</tspan></text>
<path d="M1270,562.8 H1402" stroke="#00ccd6" stroke-width="6.0" fill="none"/>
<text x="1416" y="581.8">96 μM Al<tspan font-size="33" dy="-24.5" dx="0.5">3+</tspan></text>
<path d="M1270,639.1 H1402" stroke="#8a4f4f" stroke-width="5.2" fill="none"/>
<text x="1416" y="658.1">128 μM Al<tspan font-size="33" dy="-24.5" dx="0.5">3+</tspan></text>
<path d="M1270,715.4 H1402" stroke="#939000" stroke-width="5.2" fill="none"/>
<text x="1416" y="734.4">160 μM Al<tspan font-size="33" dy="-24.5" dx="0.5">3+</tspan></text>
<path d="M1270,791.7 H1402" stroke="#ff6a08" stroke-width="5.2" fill="none"/>
<text x="1416" y="810.7">192 μM Al<tspan font-size="33" dy="-24.5" dx="0.5">3+</tspan></text>
<path d="M1270,868.0 H1402" stroke="#3b98e0" stroke-width="5.2" fill="none"/>
<text x="1416" y="887.0">256 μM Al<tspan font-size="33" dy="-24.5" dx="0.5">3+</tspan></text>
<path d="M1270,944.3 H1402" stroke="#2fc000" stroke-width="5.2" fill="none"/>
<text x="1416" y="963.3">320 μM Al<tspan font-size="33" dy="-24.5" dx="0.5">3+</tspan></text>
<path d="M1270,1020.6 H1402" stroke="#454548" stroke-width="5.2" fill="none"/>
<text x="1416" y="1039.6">416 μM Al<tspan font-size="33" dy="-24.5" dx="0.5">3+</tspan></text>
<path d="M1270,1096.9 H1402" stroke="#ff3b47" stroke-width="5.2" fill="none"/>
<text x="1416" y="1115.9">480 μM Al<tspan font-size="33" dy="-24.5" dx="0.5">3+</tspan></text>
</g>
</g>
<g font-family='"Liberation Serif", serif' font-weight="700" font-size="94" fill="#000" filter="url(#soft)">
<text x="21.5" y="121" font-size="92">(a)</text>
<text x="1752.5" y="119.5">(b)</text>
<text x="1750.5" y="774">(c)</text>
<text x="89" y="1570">(d)</text>
</g>
<defs>
<g id="bnc"><g fill="none" stroke="#000" stroke-width="7" stroke-linecap="round">
<path d="M0,0L-5.1,-22.0C-14.4,-49.8 -41.5,-43.5 -44.7,-71.4"/>
<path d="M0,0L7.7,-22.0C16.0,-43.5 38.3,-33.9 41.5,-64.2"/>
<path d="M0,0L23.0,-2.2C59.1,-1.9 47.9,-21.1 100.6,-21.1"/>
<path d="M0,0L21.8,7.4C52.7,14.1 41.5,50.8 76.7,56.4"/>
<path d="M0,0L2.6,22.7C8.0,46.0 30.4,34.8 30.4,72.4"/>
<path d="M0,0L-5.1,22.7C-9.6,55.6 -51.1,42.8 -55.1,91.5"/>
<path d="M0,0L-23.0,-0.2C-55.9,1.3 -43.1,20.4 -101.4,20.4"/>
</g><circle r="28.6" fill="#401ee6"/></g>
<g id="rnc"><g fill="none" stroke="#ff0000" stroke-width="10.4" stroke-linecap="butt">
<path d="M0,0L-5.2,-33.8C-13.0,-92.7 -35.8,-73.2 -40.6,-146.3"/>
<path d="M0,0L-31.2,-3.9C-94.3,-21.1 -71.5,-66.7 -141.4,-71.5"/>
<path d="M0,0L28.6,-14.3C71.5,-30.9 52.0,-69.9 102.4,-74.8"/>
<path d="M0,0L31.2,9.1C68.3,17.9 58.5,47.1 102.4,50.4"/>
<path d="M0,0L5.2,32.5C13.0,89.4 42.3,66.7 43.9,146.3"/>
<path d="M0,0L-10.4,32.5C-19.5,82.9 -68.3,63.4 -74.8,118.7"/>
<path d="M0,0L-31.2,9.1C-65.0,17.9 -55.3,50.4 -102.4,52.0"/>
</g><circle r="40.5" fill="#ff0000"/></g>
<path id="star" d="M0,-60Q3.5,-30 9.5,-10.5Q30,-4.5 53,0Q30,4.5 9.5,10.5Q3.5,30 0,60Q-3.5,30 -9.5,10.5Q-30,4.5 -53,0Q-30,-4.5 -9.5,-10.5Q-3.5,-30 0,-60Z" fill="#000" stroke="#000" stroke-width="1.6" stroke-linejoin="round"/>
<linearGradient id="arr" gradientUnits="userSpaceOnUse" x1="930" y1="0" x2="1199" y2="0"><stop offset="0" stop-color="#9a9c9e"/><stop offset="0.2" stop-color="#b1cbec"/><stop offset="0.45" stop-color="#d9a6c4"/><stop offset="0.68" stop-color="#fb6d80"/><stop offset="0.88" stop-color="#ff2430"/><stop offset="1" stop-color="#ff0000"/></linearGradient>
</defs>
<g id="paneld" filter="url(#soft)">
<rect x="160.5" y="1532.3" width="1888" height="941.5" rx="150" ry="150" fill="none" stroke="#20609a" stroke-width="4.8"/>
<use href="#bnc" x="512.6" y="1627.8"/>
<use href="#bnc" x="270.0" y="1809.0"/>
<use href="#bnc" x="726.4" y="1809.0"/>
<use href="#bnc" x="484.0" y="1934.6"/>
<use href="#bnc" x="473.6" y="2392.6"/>
<use href="#rnc" x="1505.6" y="1697.7"/>
<use href="#rnc" x="1708.8" y="1717.2"/>
<use href="#rnc" x="1505.6" y="1917.2"/>
<use href="#rnc" x="1694.2" y="1943.2"/>
<use href="#star" x="1065.3" y="1733.9"/>
<use href="#star" x="1547.2" y="1608.3"/>
<use href="#star" x="1416.2" y="1799.5"/>
<use href="#star" x="1604.1" y="1808.3"/>
<use href="#star" x="1814.5" y="1836.5"/>
<use href="#star" x="1393.4" y="1931.2"/>
<use href="#star" x="1599.9" y="2034.9"/>
<use href="#star" x="1799.9" y="2034.9"/>
<use href="#star" x="1437.3" y="2406.3"/>
<path d="M930,1803.7H1163.5V1787.8L1198.5,1821.3L1163.5,1855.6V1837.7H930Z" fill="url(#arr)"/>
<g font-family='"Liberation Sans", sans-serif' font-size="90" fill="#000" stroke="#000" stroke-width="1.5" stroke-linejoin="round">
<text x="952" y="1948.5">AIEE</text>
<text x="167" y="2191.5">Weak fluorescence</text>
<text x="1238" y="2191.5">Strong fluorescence</text>
<text x="610" y="2437.5">AgAu NCs</text>
<text x="1542.5" y="2438.5" letter-spacing="2">Al<tspan font-size="60" dy="-27" dx="2.5" letter-spacing="4">3+</tspan></text>
</g>
</g>
</svg></body></html>
